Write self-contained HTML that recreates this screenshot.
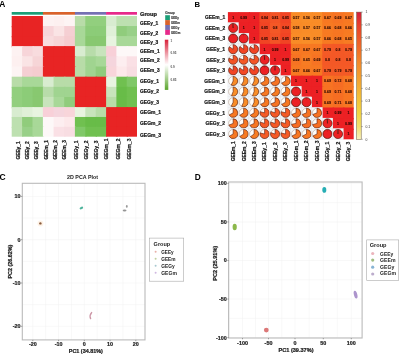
<!DOCTYPE html>
<html><head><meta charset="utf-8"><style>
html,body{margin:0;padding:0;background:#fff;width:400px;height:354px;overflow:hidden}
svg{display:block;font-family:"Liberation Sans", sans-serif;will-change:transform}
</style></head><body>
<svg width="400" height="354" viewBox="0 0 400 354">
<rect width="400" height="354" fill="#fff"/>
<text x="-0.70" y="6.70" font-size="8.4" text-anchor="start" font-weight="bold" fill="#000">A</text>
<text x="194.40" y="6.50" font-size="7.7" text-anchor="start" font-weight="bold" fill="#000">B</text>
<text x="-0.50" y="180.00" font-size="8.5" text-anchor="start" font-weight="bold" fill="#000">C</text>
<text x="194.80" y="179.80" font-size="8.3" text-anchor="start" font-weight="bold" fill="#000">D</text>
<rect x="11.70" y="16.00" width="11.60" height="11.23" fill="#e82424"/>
<rect x="22.10" y="16.00" width="11.60" height="11.23" fill="#e82424"/>
<rect x="32.50" y="16.00" width="11.60" height="11.23" fill="#e82424"/>
<rect x="42.90" y="16.00" width="11.87" height="11.23" fill="#fdf2f2"/>
<rect x="53.57" y="16.00" width="11.87" height="11.23" fill="#fdf0f0"/>
<rect x="64.23" y="16.00" width="11.87" height="11.23" fill="#fdf4f4"/>
<rect x="74.90" y="16.00" width="11.60" height="11.23" fill="#b8dca8"/>
<rect x="85.30" y="16.00" width="11.60" height="11.23" fill="#92cf7e"/>
<rect x="95.70" y="16.00" width="11.60" height="11.23" fill="#92cf7e"/>
<rect x="106.10" y="16.00" width="11.50" height="11.23" fill="#d8ecd0"/>
<rect x="116.40" y="16.00" width="11.50" height="11.23" fill="#bde0b0"/>
<rect x="126.70" y="16.00" width="10.30" height="11.23" fill="#bde0b0"/>
<rect x="11.70" y="26.03" width="11.60" height="11.23" fill="#e82424"/>
<rect x="22.10" y="26.03" width="11.60" height="11.23" fill="#e82424"/>
<rect x="32.50" y="26.03" width="11.60" height="11.23" fill="#e82424"/>
<rect x="42.90" y="26.03" width="11.87" height="11.23" fill="#f7d5d9"/>
<rect x="53.57" y="26.03" width="11.87" height="11.23" fill="#fae4e5"/>
<rect x="64.23" y="26.03" width="11.87" height="11.23" fill="#f5cfd3"/>
<rect x="74.90" y="26.03" width="11.60" height="11.23" fill="#a8d898"/>
<rect x="85.30" y="26.03" width="11.60" height="11.23" fill="#8ccc78"/>
<rect x="95.70" y="26.03" width="11.60" height="11.23" fill="#8ccc78"/>
<rect x="106.10" y="26.03" width="11.50" height="11.23" fill="#e0f0d8"/>
<rect x="116.40" y="26.03" width="11.50" height="11.23" fill="#90cc7c"/>
<rect x="126.70" y="26.03" width="10.30" height="11.23" fill="#98d088"/>
<rect x="11.70" y="36.07" width="11.60" height="11.23" fill="#e82424"/>
<rect x="22.10" y="36.07" width="11.60" height="11.23" fill="#e82424"/>
<rect x="32.50" y="36.07" width="11.60" height="11.23" fill="#e82424"/>
<rect x="42.90" y="36.07" width="11.87" height="11.23" fill="#f8dcde"/>
<rect x="53.57" y="36.07" width="11.87" height="11.23" fill="#f6d5d7"/>
<rect x="64.23" y="36.07" width="11.87" height="11.23" fill="#f5cccf"/>
<rect x="74.90" y="36.07" width="11.60" height="11.23" fill="#a8d898"/>
<rect x="85.30" y="36.07" width="11.60" height="11.23" fill="#88c870"/>
<rect x="95.70" y="36.07" width="11.60" height="11.23" fill="#88c870"/>
<rect x="106.10" y="36.07" width="11.50" height="11.23" fill="#e8f4e0"/>
<rect x="116.40" y="36.07" width="11.50" height="11.23" fill="#a8d898"/>
<rect x="126.70" y="36.07" width="10.30" height="11.23" fill="#a8d898"/>
<rect x="11.70" y="46.10" width="11.60" height="11.40" fill="#fdf2f2"/>
<rect x="22.10" y="46.10" width="11.60" height="11.40" fill="#f7d5d9"/>
<rect x="32.50" y="46.10" width="11.60" height="11.40" fill="#f8dcde"/>
<rect x="42.90" y="46.10" width="11.87" height="11.40" fill="#e82424"/>
<rect x="53.57" y="46.10" width="11.87" height="11.40" fill="#e82424"/>
<rect x="64.23" y="46.10" width="11.87" height="11.40" fill="#e82424"/>
<rect x="74.90" y="46.10" width="11.60" height="11.40" fill="#d8ecd0"/>
<rect x="85.30" y="46.10" width="11.60" height="11.40" fill="#b8dcaa"/>
<rect x="95.70" y="46.10" width="11.60" height="11.40" fill="#c8e4bc"/>
<rect x="106.10" y="46.10" width="11.50" height="11.40" fill="#f8d0d8"/>
<rect x="116.40" y="46.10" width="11.50" height="11.40" fill="#fdf8f8"/>
<rect x="126.70" y="46.10" width="10.30" height="11.40" fill="#fdf8f8"/>
<rect x="11.70" y="56.30" width="11.60" height="11.40" fill="#fdf0f0"/>
<rect x="22.10" y="56.30" width="11.60" height="11.40" fill="#fae4e5"/>
<rect x="32.50" y="56.30" width="11.60" height="11.40" fill="#f6d5d7"/>
<rect x="42.90" y="56.30" width="11.87" height="11.40" fill="#e82424"/>
<rect x="53.57" y="56.30" width="11.87" height="11.40" fill="#e82424"/>
<rect x="64.23" y="56.30" width="11.87" height="11.40" fill="#e82424"/>
<rect x="74.90" y="56.30" width="11.60" height="11.40" fill="#b8dca8"/>
<rect x="85.30" y="56.30" width="11.60" height="11.40" fill="#a0d490"/>
<rect x="95.70" y="56.30" width="11.60" height="11.40" fill="#a8d898"/>
<rect x="106.10" y="56.30" width="11.50" height="11.40" fill="#f5d5dd"/>
<rect x="116.40" y="56.30" width="11.50" height="11.40" fill="#fdeef0"/>
<rect x="126.70" y="56.30" width="10.30" height="11.40" fill="#fae0e5"/>
<rect x="11.70" y="66.50" width="11.60" height="11.40" fill="#fdf4f4"/>
<rect x="22.10" y="66.50" width="11.60" height="11.40" fill="#f5cfd3"/>
<rect x="32.50" y="66.50" width="11.60" height="11.40" fill="#f5cccf"/>
<rect x="42.90" y="66.50" width="11.87" height="11.40" fill="#e82424"/>
<rect x="53.57" y="66.50" width="11.87" height="11.40" fill="#e82424"/>
<rect x="64.23" y="66.50" width="11.87" height="11.40" fill="#e82424"/>
<rect x="74.90" y="66.50" width="11.60" height="11.40" fill="#b8dca8"/>
<rect x="85.30" y="66.50" width="11.60" height="11.40" fill="#a0d490"/>
<rect x="95.70" y="66.50" width="11.60" height="11.40" fill="#90cc7c"/>
<rect x="106.10" y="66.50" width="11.50" height="11.40" fill="#f8d5da"/>
<rect x="116.40" y="66.50" width="11.50" height="11.40" fill="#fde8ea"/>
<rect x="126.70" y="66.50" width="10.30" height="11.40" fill="#f8dde2"/>
<rect x="11.70" y="76.70" width="11.60" height="11.33" fill="#b8dca8"/>
<rect x="22.10" y="76.70" width="11.60" height="11.33" fill="#a8d898"/>
<rect x="32.50" y="76.70" width="11.60" height="11.33" fill="#a8d898"/>
<rect x="42.90" y="76.70" width="11.87" height="11.33" fill="#d8ecd0"/>
<rect x="53.57" y="76.70" width="11.87" height="11.33" fill="#b8dca8"/>
<rect x="64.23" y="76.70" width="11.87" height="11.33" fill="#b8dca8"/>
<rect x="74.90" y="76.70" width="11.60" height="11.33" fill="#e82424"/>
<rect x="85.30" y="76.70" width="11.60" height="11.33" fill="#e82424"/>
<rect x="95.70" y="76.70" width="11.60" height="11.33" fill="#e82424"/>
<rect x="106.10" y="76.70" width="11.50" height="11.33" fill="#e8f4e0"/>
<rect x="116.40" y="76.70" width="11.50" height="11.33" fill="#70c050"/>
<rect x="126.70" y="76.70" width="10.30" height="11.33" fill="#80c868"/>
<rect x="11.70" y="86.83" width="11.60" height="11.33" fill="#92cf7e"/>
<rect x="22.10" y="86.83" width="11.60" height="11.33" fill="#8ccc78"/>
<rect x="32.50" y="86.83" width="11.60" height="11.33" fill="#88c870"/>
<rect x="42.90" y="86.83" width="11.87" height="11.33" fill="#b8dcaa"/>
<rect x="53.57" y="86.83" width="11.87" height="11.33" fill="#a0d490"/>
<rect x="64.23" y="86.83" width="11.87" height="11.33" fill="#a0d490"/>
<rect x="74.90" y="86.83" width="11.60" height="11.33" fill="#e82424"/>
<rect x="85.30" y="86.83" width="11.60" height="11.33" fill="#e82424"/>
<rect x="95.70" y="86.83" width="11.60" height="11.33" fill="#e82424"/>
<rect x="106.10" y="86.83" width="11.50" height="11.33" fill="#c8e4bc"/>
<rect x="116.40" y="86.83" width="11.50" height="11.33" fill="#68bc48"/>
<rect x="126.70" y="86.83" width="10.30" height="11.33" fill="#70c050"/>
<rect x="11.70" y="96.97" width="11.60" height="11.33" fill="#92cf7e"/>
<rect x="22.10" y="96.97" width="11.60" height="11.33" fill="#8ccc78"/>
<rect x="32.50" y="96.97" width="11.60" height="11.33" fill="#88c870"/>
<rect x="42.90" y="96.97" width="11.87" height="11.33" fill="#c8e4bc"/>
<rect x="53.57" y="96.97" width="11.87" height="11.33" fill="#a8d898"/>
<rect x="64.23" y="96.97" width="11.87" height="11.33" fill="#90cc7c"/>
<rect x="74.90" y="96.97" width="11.60" height="11.33" fill="#e82424"/>
<rect x="85.30" y="96.97" width="11.60" height="11.33" fill="#e82424"/>
<rect x="95.70" y="96.97" width="11.60" height="11.33" fill="#e82424"/>
<rect x="106.10" y="96.97" width="11.50" height="11.33" fill="#b8dca8"/>
<rect x="116.40" y="96.97" width="11.50" height="11.33" fill="#68bc48"/>
<rect x="126.70" y="96.97" width="10.30" height="11.33" fill="#70c050"/>
<rect x="11.70" y="107.10" width="11.60" height="11.07" fill="#d8ecd0"/>
<rect x="22.10" y="107.10" width="11.60" height="11.07" fill="#e0f0d8"/>
<rect x="32.50" y="107.10" width="11.60" height="11.07" fill="#e8f4e0"/>
<rect x="42.90" y="107.10" width="11.87" height="11.07" fill="#f8d0d8"/>
<rect x="53.57" y="107.10" width="11.87" height="11.07" fill="#f5d5dd"/>
<rect x="64.23" y="107.10" width="11.87" height="11.07" fill="#f8d5da"/>
<rect x="74.90" y="107.10" width="11.60" height="11.07" fill="#e8f4e0"/>
<rect x="85.30" y="107.10" width="11.60" height="11.07" fill="#c8e4bc"/>
<rect x="95.70" y="107.10" width="11.60" height="11.07" fill="#b8dca8"/>
<rect x="106.10" y="107.10" width="11.50" height="11.07" fill="#e82424"/>
<rect x="116.40" y="107.10" width="11.50" height="11.07" fill="#e82424"/>
<rect x="126.70" y="107.10" width="10.30" height="11.07" fill="#e82424"/>
<rect x="11.70" y="116.97" width="11.60" height="11.07" fill="#bde0b0"/>
<rect x="22.10" y="116.97" width="11.60" height="11.07" fill="#90cc7c"/>
<rect x="32.50" y="116.97" width="11.60" height="11.07" fill="#a8d898"/>
<rect x="42.90" y="116.97" width="11.87" height="11.07" fill="#fdf8f8"/>
<rect x="53.57" y="116.97" width="11.87" height="11.07" fill="#fdeef0"/>
<rect x="64.23" y="116.97" width="11.87" height="11.07" fill="#fde8ea"/>
<rect x="74.90" y="116.97" width="11.60" height="11.07" fill="#70c050"/>
<rect x="85.30" y="116.97" width="11.60" height="11.07" fill="#68bc48"/>
<rect x="95.70" y="116.97" width="11.60" height="11.07" fill="#68bc48"/>
<rect x="106.10" y="116.97" width="11.50" height="11.07" fill="#e82424"/>
<rect x="116.40" y="116.97" width="11.50" height="11.07" fill="#e82424"/>
<rect x="126.70" y="116.97" width="10.30" height="11.07" fill="#e82424"/>
<rect x="11.70" y="126.83" width="11.60" height="9.87" fill="#bde0b0"/>
<rect x="22.10" y="126.83" width="11.60" height="9.87" fill="#98d088"/>
<rect x="32.50" y="126.83" width="11.60" height="9.87" fill="#a8d898"/>
<rect x="42.90" y="126.83" width="11.87" height="9.87" fill="#fdf8f8"/>
<rect x="53.57" y="126.83" width="11.87" height="9.87" fill="#fae0e5"/>
<rect x="64.23" y="126.83" width="11.87" height="9.87" fill="#f8dde2"/>
<rect x="74.90" y="126.83" width="11.60" height="9.87" fill="#80c868"/>
<rect x="85.30" y="126.83" width="11.60" height="9.87" fill="#70c050"/>
<rect x="95.70" y="126.83" width="11.60" height="9.87" fill="#70c050"/>
<rect x="106.10" y="126.83" width="11.50" height="9.87" fill="#e82424"/>
<rect x="116.40" y="126.83" width="11.50" height="9.87" fill="#e82424"/>
<rect x="126.70" y="126.83" width="10.30" height="9.87" fill="#e82424"/>
<rect x="11.70" y="12" width="31.60" height="2.7" fill="#1b9e77"/>
<rect x="42.90" y="12" width="32.40" height="2.7" fill="#d9622b"/>
<rect x="74.90" y="12" width="31.60" height="2.7" fill="#7570b3"/>
<rect x="106.10" y="12" width="30.90" height="2.7" fill="#e7298a"/>
<text x="140.00" y="15.80" font-size="5.4" text-anchor="start" font-weight="bold" fill="#1a1a1a" stroke="#1a1a1a" stroke-width="0.24" textLength="17.0" lengthAdjust="spacingAndGlyphs">Group</text>
<text x="140.00" y="24.80" font-size="5.3" text-anchor="start" font-weight="bold" fill="#1a1a1a" stroke="#1a1a1a" stroke-width="0.24" textLength="18.3" lengthAdjust="spacingAndGlyphs">GEEy_1</text>
<text x="20.00" y="159.60" font-size="5.3" text-anchor="start" font-weight="bold" fill="#1a1a1a" stroke="#1a1a1a" stroke-width="0.24" transform="rotate(-90 20.00 159.60)" textLength="18.3" lengthAdjust="spacingAndGlyphs">GEEy_1</text>
<text x="140.00" y="34.60" font-size="5.3" text-anchor="start" font-weight="bold" fill="#1a1a1a" stroke="#1a1a1a" stroke-width="0.24" textLength="18.3" lengthAdjust="spacingAndGlyphs">GEEy_2</text>
<text x="29.30" y="159.60" font-size="5.3" text-anchor="start" font-weight="bold" fill="#1a1a1a" stroke="#1a1a1a" stroke-width="0.24" transform="rotate(-90 29.30 159.60)" textLength="18.3" lengthAdjust="spacingAndGlyphs">GEEy_2</text>
<text x="140.00" y="43.90" font-size="5.3" text-anchor="start" font-weight="bold" fill="#1a1a1a" stroke="#1a1a1a" stroke-width="0.24" textLength="18.3" lengthAdjust="spacingAndGlyphs">GEEy_3</text>
<text x="37.90" y="159.60" font-size="5.3" text-anchor="start" font-weight="bold" fill="#1a1a1a" stroke="#1a1a1a" stroke-width="0.24" transform="rotate(-90 37.90 159.60)" textLength="18.3" lengthAdjust="spacingAndGlyphs">GEEy_3</text>
<text x="140.00" y="53.00" font-size="5.3" text-anchor="start" font-weight="bold" fill="#1a1a1a" stroke="#1a1a1a" stroke-width="0.24" textLength="19.6" lengthAdjust="spacingAndGlyphs">GEEm_1</text>
<text x="48.00" y="159.60" font-size="5.3" text-anchor="start" font-weight="bold" fill="#1a1a1a" stroke="#1a1a1a" stroke-width="0.24" transform="rotate(-90 48.00 159.60)" textLength="19.6" lengthAdjust="spacingAndGlyphs">GEEm_1</text>
<text x="140.00" y="62.10" font-size="5.3" text-anchor="start" font-weight="bold" fill="#1a1a1a" stroke="#1a1a1a" stroke-width="0.24" textLength="19.6" lengthAdjust="spacingAndGlyphs">GEEm_2</text>
<text x="56.80" y="159.60" font-size="5.3" text-anchor="start" font-weight="bold" fill="#1a1a1a" stroke="#1a1a1a" stroke-width="0.24" transform="rotate(-90 56.80 159.60)" textLength="19.6" lengthAdjust="spacingAndGlyphs">GEEm_2</text>
<text x="140.00" y="72.20" font-size="5.3" text-anchor="start" font-weight="bold" fill="#1a1a1a" stroke="#1a1a1a" stroke-width="0.24" textLength="19.6" lengthAdjust="spacingAndGlyphs">GEEm_3</text>
<text x="66.40" y="159.60" font-size="5.3" text-anchor="start" font-weight="bold" fill="#1a1a1a" stroke="#1a1a1a" stroke-width="0.24" transform="rotate(-90 66.40 159.60)" textLength="19.6" lengthAdjust="spacingAndGlyphs">GEEm_3</text>
<text x="140.00" y="83.20" font-size="5.3" text-anchor="start" font-weight="bold" fill="#1a1a1a" stroke="#1a1a1a" stroke-width="0.24" textLength="19.0" lengthAdjust="spacingAndGlyphs">GEGy_1</text>
<text x="78.00" y="159.60" font-size="5.3" text-anchor="start" font-weight="bold" fill="#1a1a1a" stroke="#1a1a1a" stroke-width="0.24" transform="rotate(-90 78.00 159.60)" textLength="19.0" lengthAdjust="spacingAndGlyphs">GEGy_1</text>
<text x="140.00" y="93.00" font-size="5.3" text-anchor="start" font-weight="bold" fill="#1a1a1a" stroke="#1a1a1a" stroke-width="0.24" textLength="19.0" lengthAdjust="spacingAndGlyphs">GEGy_2</text>
<text x="87.60" y="159.60" font-size="5.3" text-anchor="start" font-weight="bold" fill="#1a1a1a" stroke="#1a1a1a" stroke-width="0.24" transform="rotate(-90 87.60 159.60)" textLength="19.0" lengthAdjust="spacingAndGlyphs">GEGy_2</text>
<text x="140.00" y="103.80" font-size="5.3" text-anchor="start" font-weight="bold" fill="#1a1a1a" stroke="#1a1a1a" stroke-width="0.24" textLength="19.0" lengthAdjust="spacingAndGlyphs">GEGy_3</text>
<text x="98.00" y="159.60" font-size="5.3" text-anchor="start" font-weight="bold" fill="#1a1a1a" stroke="#1a1a1a" stroke-width="0.24" transform="rotate(-90 98.00 159.60)" textLength="19.0" lengthAdjust="spacingAndGlyphs">GEGy_3</text>
<text x="140.00" y="113.50" font-size="5.3" text-anchor="start" font-weight="bold" fill="#1a1a1a" stroke="#1a1a1a" stroke-width="0.24" textLength="21.0" lengthAdjust="spacingAndGlyphs">GEGm_1</text>
<text x="108.40" y="159.60" font-size="5.3" text-anchor="start" font-weight="bold" fill="#1a1a1a" stroke="#1a1a1a" stroke-width="0.24" transform="rotate(-90 108.40 159.60)" textLength="21.0" lengthAdjust="spacingAndGlyphs">GEGm_1</text>
<text x="140.00" y="125.00" font-size="5.3" text-anchor="start" font-weight="bold" fill="#1a1a1a" stroke="#1a1a1a" stroke-width="0.24" textLength="21.0" lengthAdjust="spacingAndGlyphs">GEGm_2</text>
<text x="119.60" y="159.60" font-size="5.3" text-anchor="start" font-weight="bold" fill="#1a1a1a" stroke="#1a1a1a" stroke-width="0.24" transform="rotate(-90 119.60 159.60)" textLength="21.0" lengthAdjust="spacingAndGlyphs">GEGm_2</text>
<text x="140.00" y="136.50" font-size="5.3" text-anchor="start" font-weight="bold" fill="#1a1a1a" stroke="#1a1a1a" stroke-width="0.24" textLength="21.0" lengthAdjust="spacingAndGlyphs">GEGm_3</text>
<text x="130.80" y="159.60" font-size="5.3" text-anchor="start" font-weight="bold" fill="#1a1a1a" stroke="#1a1a1a" stroke-width="0.24" transform="rotate(-90 130.80 159.60)" textLength="21.0" lengthAdjust="spacingAndGlyphs">GEGm_3</text>
<text x="165.20" y="13.90" font-size="3.2" text-anchor="start" font-weight="bold" fill="#2a2a2a" stroke="#2a2a2a" stroke-width="0.1">Group</text>
<rect x="165.2" y="15.20" width="4.7" height="4.95" fill="#1b9e77"/>
<text x="171.00" y="18.80" font-size="3.0" text-anchor="start" font-weight="bold" fill="#2a2a2a" stroke="#2a2a2a" stroke-width="0.1">GEEy</text>
<rect x="165.2" y="20.10" width="4.7" height="4.95" fill="#d9622b"/>
<text x="171.00" y="23.70" font-size="3.0" text-anchor="start" font-weight="bold" fill="#2a2a2a" stroke="#2a2a2a" stroke-width="0.1">GEEm</text>
<rect x="165.2" y="25.00" width="4.7" height="4.95" fill="#7570b3"/>
<text x="171.00" y="28.60" font-size="3.0" text-anchor="start" font-weight="bold" fill="#2a2a2a" stroke="#2a2a2a" stroke-width="0.1">GEGy</text>
<rect x="165.2" y="29.90" width="4.7" height="4.95" fill="#e7298a"/>
<text x="171.00" y="33.50" font-size="3.0" text-anchor="start" font-weight="bold" fill="#2a2a2a" stroke="#2a2a2a" stroke-width="0.1">GEGm</text>
<defs><linearGradient id="cbA" x1="0" y1="0" x2="0" y2="1"><stop offset="0" stop-color="#d8213a"/><stop offset="0.5" stop-color="#ffffff"/><stop offset="1" stop-color="#5aa52c"/></linearGradient><linearGradient id="cbB" x1="0" y1="0" x2="0" y2="1"><stop offset="0" stop-color="#d21f3e"/><stop offset="0.1" stop-color="#e6402c"/><stop offset="0.3" stop-color="#f07028"/><stop offset="0.4" stop-color="#f28a2c"/><stop offset="0.5" stop-color="#f29c30"/><stop offset="0.7" stop-color="#f2c63a"/><stop offset="0.8" stop-color="#f2d644"/><stop offset="0.9" stop-color="#f2e070"/><stop offset="1" stop-color="#f8f2c0"/></linearGradient></defs>
<rect x="164.8" y="39.7" width="3.5" height="50.2" fill="url(#cbA)"/>
<text x="170.50" y="41.50" font-size="3.0" text-anchor="start" font-weight="bold" fill="#555">1</text>
<text x="170.50" y="54.00" font-size="3.0" text-anchor="start" font-weight="bold" fill="#555">0.95</text>
<text x="170.50" y="68.00" font-size="3.0" text-anchor="start" font-weight="bold" fill="#555">0.9</text>
<text x="170.50" y="81.00" font-size="3.0" text-anchor="start" font-weight="bold" fill="#555">0.85</text>
<rect x="227.90" y="12.10" width="11.68" height="10.60" fill="#ec2024"/>
<rect x="238.38" y="12.10" width="11.68" height="11.80" fill="#ec2224"/>
<rect x="248.87" y="12.10" width="11.68" height="11.80" fill="#ec2024"/>
<rect x="259.35" y="12.10" width="11.68" height="11.80" fill="#f24824"/>
<rect x="269.83" y="12.10" width="11.68" height="11.80" fill="#f35426"/>
<rect x="280.32" y="12.10" width="11.68" height="11.80" fill="#f14424"/>
<rect x="290.80" y="12.10" width="11.68" height="11.80" fill="#f98c27"/>
<rect x="301.28" y="12.10" width="11.68" height="11.80" fill="#f98e28"/>
<rect x="311.77" y="12.10" width="11.68" height="11.80" fill="#f98c27"/>
<rect x="322.25" y="12.10" width="11.68" height="11.80" fill="#f77822"/>
<rect x="332.73" y="12.10" width="11.68" height="11.80" fill="#f77323"/>
<rect x="343.22" y="12.10" width="10.48" height="11.80" fill="#f77822"/>
<rect x="238.38" y="22.70" width="11.68" height="10.60" fill="#ec2024"/>
<rect x="248.87" y="22.70" width="11.68" height="11.80" fill="#ec2024"/>
<rect x="259.35" y="22.70" width="11.68" height="11.80" fill="#f14424"/>
<rect x="269.83" y="22.70" width="11.68" height="11.80" fill="#f45826"/>
<rect x="280.32" y="22.70" width="11.68" height="11.80" fill="#f24824"/>
<rect x="290.80" y="22.70" width="11.68" height="11.80" fill="#f88a27"/>
<rect x="301.28" y="22.70" width="11.68" height="11.80" fill="#f98c27"/>
<rect x="311.77" y="22.70" width="11.68" height="11.80" fill="#f98c27"/>
<rect x="322.25" y="22.70" width="11.68" height="11.80" fill="#f77a22"/>
<rect x="332.73" y="22.70" width="11.68" height="11.80" fill="#f77622"/>
<rect x="343.22" y="22.70" width="10.48" height="11.80" fill="#f77a22"/>
<rect x="248.87" y="33.30" width="11.68" height="10.60" fill="#ec2024"/>
<rect x="259.35" y="33.30" width="11.68" height="11.80" fill="#f14424"/>
<rect x="269.83" y="33.30" width="11.68" height="11.80" fill="#f35426"/>
<rect x="280.32" y="33.30" width="11.68" height="11.80" fill="#f14424"/>
<rect x="290.80" y="33.30" width="11.68" height="11.80" fill="#f98c27"/>
<rect x="301.28" y="33.30" width="11.68" height="11.80" fill="#f98e28"/>
<rect x="311.77" y="33.30" width="11.68" height="11.80" fill="#f98c27"/>
<rect x="322.25" y="33.30" width="11.68" height="11.80" fill="#f77a22"/>
<rect x="332.73" y="33.30" width="11.68" height="11.80" fill="#f77622"/>
<rect x="343.22" y="33.30" width="10.48" height="11.80" fill="#f77c23"/>
<rect x="259.35" y="43.90" width="11.68" height="10.60" fill="#ec2024"/>
<rect x="269.83" y="43.90" width="11.68" height="11.80" fill="#ec2224"/>
<rect x="280.32" y="43.90" width="11.68" height="11.80" fill="#ec2024"/>
<rect x="290.80" y="43.90" width="11.68" height="11.80" fill="#f77822"/>
<rect x="301.28" y="43.90" width="11.68" height="11.80" fill="#f77822"/>
<rect x="311.77" y="43.90" width="11.68" height="11.80" fill="#f77822"/>
<rect x="322.25" y="43.90" width="11.68" height="11.80" fill="#f45a26"/>
<rect x="332.73" y="43.90" width="11.68" height="11.80" fill="#f45826"/>
<rect x="343.22" y="43.90" width="10.48" height="11.80" fill="#f45a26"/>
<rect x="269.83" y="54.50" width="11.68" height="10.60" fill="#ec2024"/>
<rect x="280.32" y="54.50" width="11.68" height="11.80" fill="#ec2224"/>
<rect x="290.80" y="54.50" width="11.68" height="11.80" fill="#f77323"/>
<rect x="301.28" y="54.50" width="11.68" height="11.80" fill="#f77c23"/>
<rect x="311.77" y="54.50" width="11.68" height="11.80" fill="#f77323"/>
<rect x="322.25" y="54.50" width="11.68" height="11.80" fill="#f45826"/>
<rect x="332.73" y="54.50" width="11.68" height="11.80" fill="#f45826"/>
<rect x="343.22" y="54.50" width="10.48" height="11.80" fill="#f45826"/>
<rect x="280.32" y="65.10" width="11.68" height="10.60" fill="#ec2024"/>
<rect x="290.80" y="65.10" width="11.68" height="11.80" fill="#f77822"/>
<rect x="301.28" y="65.10" width="11.68" height="11.80" fill="#f77a22"/>
<rect x="311.77" y="65.10" width="11.68" height="11.80" fill="#f77822"/>
<rect x="322.25" y="65.10" width="11.68" height="11.80" fill="#f45a26"/>
<rect x="332.73" y="65.10" width="11.68" height="11.80" fill="#f45a26"/>
<rect x="343.22" y="65.10" width="10.48" height="11.80" fill="#f45a26"/>
<rect x="290.80" y="75.70" width="11.68" height="10.60" fill="#ec2024"/>
<rect x="301.28" y="75.70" width="11.68" height="11.80" fill="#ec2024"/>
<rect x="311.77" y="75.70" width="11.68" height="11.80" fill="#ec2024"/>
<rect x="322.25" y="75.70" width="11.68" height="11.80" fill="#f77323"/>
<rect x="332.73" y="75.70" width="11.68" height="11.80" fill="#f66c24"/>
<rect x="343.22" y="75.70" width="10.48" height="11.80" fill="#f77622"/>
<rect x="301.28" y="86.30" width="11.68" height="10.60" fill="#ec2024"/>
<rect x="311.77" y="86.30" width="11.68" height="11.80" fill="#ec2024"/>
<rect x="322.25" y="86.30" width="11.68" height="11.80" fill="#f77323"/>
<rect x="332.73" y="86.30" width="11.68" height="11.80" fill="#f66e23"/>
<rect x="343.22" y="86.30" width="10.48" height="11.80" fill="#f77622"/>
<rect x="311.77" y="96.90" width="11.68" height="10.60" fill="#ec2024"/>
<rect x="322.25" y="96.90" width="11.68" height="11.80" fill="#f77323"/>
<rect x="332.73" y="96.90" width="11.68" height="11.80" fill="#f66e23"/>
<rect x="343.22" y="96.90" width="10.48" height="11.80" fill="#f77622"/>
<rect x="322.25" y="107.50" width="11.68" height="10.60" fill="#ec2024"/>
<rect x="332.73" y="107.50" width="11.68" height="11.80" fill="#ec2224"/>
<rect x="343.22" y="107.50" width="10.48" height="11.80" fill="#ec2024"/>
<rect x="332.73" y="118.10" width="11.68" height="10.60" fill="#ec2024"/>
<rect x="343.22" y="118.10" width="10.48" height="11.80" fill="#ec2224"/>
<rect x="343.22" y="128.70" width="10.48" height="10.60" fill="#ec2024"/>
<text x="233.14" y="18.70" font-size="3.5" text-anchor="middle" font-weight="bold" fill="#2a0800" stroke="#2a0800" stroke-width="0.08">1</text>
<text x="243.62" y="18.70" font-size="3.5" text-anchor="middle" font-weight="bold" fill="#2a0800" stroke="#2a0800" stroke-width="0.08">0.99</text>
<text x="254.11" y="18.70" font-size="3.5" text-anchor="middle" font-weight="bold" fill="#2a0800" stroke="#2a0800" stroke-width="0.08">1</text>
<text x="264.59" y="18.70" font-size="3.5" text-anchor="middle" font-weight="bold" fill="#2a0800" stroke="#2a0800" stroke-width="0.08">0.84</text>
<text x="275.07" y="18.70" font-size="3.5" text-anchor="middle" font-weight="bold" fill="#2a0800" stroke="#2a0800" stroke-width="0.08">0.81</text>
<text x="285.56" y="18.70" font-size="3.5" text-anchor="middle" font-weight="bold" fill="#2a0800" stroke="#2a0800" stroke-width="0.08">0.85</text>
<text x="296.04" y="18.70" font-size="3.5" text-anchor="middle" font-weight="bold" fill="#2a0800" stroke="#2a0800" stroke-width="0.08">0.57</text>
<text x="306.52" y="18.70" font-size="3.5" text-anchor="middle" font-weight="bold" fill="#2a0800" stroke="#2a0800" stroke-width="0.08">0.56</text>
<text x="317.01" y="18.70" font-size="3.5" text-anchor="middle" font-weight="bold" fill="#2a0800" stroke="#2a0800" stroke-width="0.08">0.57</text>
<text x="327.49" y="18.70" font-size="3.5" text-anchor="middle" font-weight="bold" fill="#2a0800" stroke="#2a0800" stroke-width="0.08">0.67</text>
<text x="337.98" y="18.70" font-size="3.5" text-anchor="middle" font-weight="bold" fill="#2a0800" stroke="#2a0800" stroke-width="0.08">0.69</text>
<text x="348.46" y="18.70" font-size="3.5" text-anchor="middle" font-weight="bold" fill="#2a0800" stroke="#2a0800" stroke-width="0.08">0.67</text>
<rect x="227.90" y="22.70" width="10.48" height="10.60" fill="#f3f5f8" stroke="#e4e6ea" stroke-width="0.4"/>
<circle cx="233.14" cy="28.00" r="4.55" fill="#fffdfa" stroke="#a89080" stroke-width="0.5"/>
<path d="M233.14,28.00 L233.14,23.45 A4.55,4.55 0 1 1 232.86,23.46 Z" fill="#ec2224" stroke="#4a1008" stroke-width="0.55" stroke-linejoin="round"/>
<text x="243.62" y="29.30" font-size="3.5" text-anchor="middle" font-weight="bold" fill="#2a0800" stroke="#2a0800" stroke-width="0.08">1</text>
<text x="254.11" y="29.30" font-size="3.5" text-anchor="middle" font-weight="bold" fill="#2a0800" stroke="#2a0800" stroke-width="0.08">1</text>
<text x="264.59" y="29.30" font-size="3.5" text-anchor="middle" font-weight="bold" fill="#2a0800" stroke="#2a0800" stroke-width="0.08">0.85</text>
<text x="275.07" y="29.30" font-size="3.5" text-anchor="middle" font-weight="bold" fill="#2a0800" stroke="#2a0800" stroke-width="0.08">0.8</text>
<text x="285.56" y="29.30" font-size="3.5" text-anchor="middle" font-weight="bold" fill="#2a0800" stroke="#2a0800" stroke-width="0.08">0.84</text>
<text x="296.04" y="29.30" font-size="3.5" text-anchor="middle" font-weight="bold" fill="#2a0800" stroke="#2a0800" stroke-width="0.08">0.58</text>
<text x="306.52" y="29.30" font-size="3.5" text-anchor="middle" font-weight="bold" fill="#2a0800" stroke="#2a0800" stroke-width="0.08">0.57</text>
<text x="317.01" y="29.30" font-size="3.5" text-anchor="middle" font-weight="bold" fill="#2a0800" stroke="#2a0800" stroke-width="0.08">0.57</text>
<text x="327.49" y="29.30" font-size="3.5" text-anchor="middle" font-weight="bold" fill="#2a0800" stroke="#2a0800" stroke-width="0.08">0.66</text>
<text x="337.98" y="29.30" font-size="3.5" text-anchor="middle" font-weight="bold" fill="#2a0800" stroke="#2a0800" stroke-width="0.08">0.68</text>
<text x="348.46" y="29.30" font-size="3.5" text-anchor="middle" font-weight="bold" fill="#2a0800" stroke="#2a0800" stroke-width="0.08">0.66</text>
<rect x="227.90" y="33.30" width="10.48" height="10.60" fill="#f3f5f8" stroke="#e4e6ea" stroke-width="0.4"/>
<circle cx="233.14" cy="38.60" r="4.55" fill="#fffdfa" stroke="#a89080" stroke-width="0.5"/>
<circle cx="233.14" cy="38.60" r="4.55" fill="#ec2024" stroke="#4a1008" stroke-width="0.65"/>
<line x1="233.14" y1="36.32" x2="233.14" y2="34.05" stroke="#4a1008" stroke-width="0.3" opacity="0.6"/>
<rect x="238.38" y="33.30" width="10.48" height="10.60" fill="#f3f5f8" stroke="#e4e6ea" stroke-width="0.4"/>
<circle cx="243.62" cy="38.60" r="4.55" fill="#fffdfa" stroke="#a89080" stroke-width="0.5"/>
<circle cx="243.62" cy="38.60" r="4.55" fill="#ec2024" stroke="#4a1008" stroke-width="0.65"/>
<line x1="243.62" y1="36.32" x2="243.62" y2="34.05" stroke="#4a1008" stroke-width="0.3" opacity="0.6"/>
<text x="254.11" y="39.90" font-size="3.5" text-anchor="middle" font-weight="bold" fill="#2a0800" stroke="#2a0800" stroke-width="0.08">1</text>
<text x="264.59" y="39.90" font-size="3.5" text-anchor="middle" font-weight="bold" fill="#2a0800" stroke="#2a0800" stroke-width="0.08">0.85</text>
<text x="275.07" y="39.90" font-size="3.5" text-anchor="middle" font-weight="bold" fill="#2a0800" stroke="#2a0800" stroke-width="0.08">0.81</text>
<text x="285.56" y="39.90" font-size="3.5" text-anchor="middle" font-weight="bold" fill="#2a0800" stroke="#2a0800" stroke-width="0.08">0.85</text>
<text x="296.04" y="39.90" font-size="3.5" text-anchor="middle" font-weight="bold" fill="#2a0800" stroke="#2a0800" stroke-width="0.08">0.57</text>
<text x="306.52" y="39.90" font-size="3.5" text-anchor="middle" font-weight="bold" fill="#2a0800" stroke="#2a0800" stroke-width="0.08">0.56</text>
<text x="317.01" y="39.90" font-size="3.5" text-anchor="middle" font-weight="bold" fill="#2a0800" stroke="#2a0800" stroke-width="0.08">0.57</text>
<text x="327.49" y="39.90" font-size="3.5" text-anchor="middle" font-weight="bold" fill="#2a0800" stroke="#2a0800" stroke-width="0.08">0.66</text>
<text x="337.98" y="39.90" font-size="3.5" text-anchor="middle" font-weight="bold" fill="#2a0800" stroke="#2a0800" stroke-width="0.08">0.68</text>
<text x="348.46" y="39.90" font-size="3.5" text-anchor="middle" font-weight="bold" fill="#2a0800" stroke="#2a0800" stroke-width="0.08">0.65</text>
<rect x="227.90" y="43.90" width="10.48" height="10.60" fill="#f3f5f8" stroke="#e4e6ea" stroke-width="0.4"/>
<circle cx="233.14" cy="49.20" r="4.55" fill="#fffdfa" stroke="#a89080" stroke-width="0.5"/>
<path d="M233.14,49.20 L233.14,44.65 A4.55,4.55 0 1 1 229.30,46.76 Z" fill="#f24824" stroke="#4a1008" stroke-width="0.55" stroke-linejoin="round"/>
<rect x="238.38" y="43.90" width="10.48" height="10.60" fill="#f3f5f8" stroke="#e4e6ea" stroke-width="0.4"/>
<circle cx="243.62" cy="49.20" r="4.55" fill="#fffdfa" stroke="#a89080" stroke-width="0.5"/>
<path d="M243.62,49.20 L243.62,44.65 A4.55,4.55 0 1 1 239.94,46.53 Z" fill="#f14424" stroke="#4a1008" stroke-width="0.55" stroke-linejoin="round"/>
<rect x="248.87" y="43.90" width="10.48" height="10.60" fill="#f3f5f8" stroke="#e4e6ea" stroke-width="0.4"/>
<circle cx="254.11" cy="49.20" r="4.55" fill="#fffdfa" stroke="#a89080" stroke-width="0.5"/>
<path d="M254.11,49.20 L254.11,44.65 A4.55,4.55 0 1 1 250.43,46.53 Z" fill="#f14424" stroke="#4a1008" stroke-width="0.55" stroke-linejoin="round"/>
<text x="264.59" y="50.50" font-size="3.5" text-anchor="middle" font-weight="bold" fill="#2a0800" stroke="#2a0800" stroke-width="0.08">1</text>
<text x="275.07" y="50.50" font-size="3.5" text-anchor="middle" font-weight="bold" fill="#2a0800" stroke="#2a0800" stroke-width="0.08">0.99</text>
<text x="285.56" y="50.50" font-size="3.5" text-anchor="middle" font-weight="bold" fill="#2a0800" stroke="#2a0800" stroke-width="0.08">1</text>
<text x="296.04" y="50.50" font-size="3.5" text-anchor="middle" font-weight="bold" fill="#2a0800" stroke="#2a0800" stroke-width="0.08">0.67</text>
<text x="306.52" y="50.50" font-size="3.5" text-anchor="middle" font-weight="bold" fill="#2a0800" stroke="#2a0800" stroke-width="0.08">0.67</text>
<text x="317.01" y="50.50" font-size="3.5" text-anchor="middle" font-weight="bold" fill="#2a0800" stroke="#2a0800" stroke-width="0.08">0.67</text>
<text x="327.49" y="50.50" font-size="3.5" text-anchor="middle" font-weight="bold" fill="#2a0800" stroke="#2a0800" stroke-width="0.08">0.79</text>
<text x="337.98" y="50.50" font-size="3.5" text-anchor="middle" font-weight="bold" fill="#2a0800" stroke="#2a0800" stroke-width="0.08">0.8</text>
<text x="348.46" y="50.50" font-size="3.5" text-anchor="middle" font-weight="bold" fill="#2a0800" stroke="#2a0800" stroke-width="0.08">0.79</text>
<rect x="227.90" y="54.50" width="10.48" height="10.60" fill="#f3f5f8" stroke="#e4e6ea" stroke-width="0.4"/>
<circle cx="233.14" cy="59.80" r="4.55" fill="#fffdfa" stroke="#a89080" stroke-width="0.5"/>
<path d="M233.14,59.80 L233.14,55.25 A4.55,4.55 0 1 1 228.91,58.13 Z" fill="#f35426" stroke="#4a1008" stroke-width="0.55" stroke-linejoin="round"/>
<rect x="238.38" y="54.50" width="10.48" height="10.60" fill="#f3f5f8" stroke="#e4e6ea" stroke-width="0.4"/>
<circle cx="243.62" cy="59.80" r="4.55" fill="#fffdfa" stroke="#a89080" stroke-width="0.5"/>
<path d="M243.62,59.80 L243.62,55.25 A4.55,4.55 0 1 1 239.30,58.39 Z" fill="#f45826" stroke="#4a1008" stroke-width="0.55" stroke-linejoin="round"/>
<rect x="248.87" y="54.50" width="10.48" height="10.60" fill="#f3f5f8" stroke="#e4e6ea" stroke-width="0.4"/>
<circle cx="254.11" cy="59.80" r="4.55" fill="#fffdfa" stroke="#a89080" stroke-width="0.5"/>
<path d="M254.11,59.80 L254.11,55.25 A4.55,4.55 0 1 1 249.88,58.13 Z" fill="#f35426" stroke="#4a1008" stroke-width="0.55" stroke-linejoin="round"/>
<rect x="259.35" y="54.50" width="10.48" height="10.60" fill="#f3f5f8" stroke="#e4e6ea" stroke-width="0.4"/>
<circle cx="264.59" cy="59.80" r="4.55" fill="#fffdfa" stroke="#a89080" stroke-width="0.5"/>
<path d="M264.59,59.80 L264.59,55.25 A4.55,4.55 0 1 1 264.31,55.26 Z" fill="#ec2224" stroke="#4a1008" stroke-width="0.55" stroke-linejoin="round"/>
<text x="275.07" y="61.10" font-size="3.5" text-anchor="middle" font-weight="bold" fill="#2a0800" stroke="#2a0800" stroke-width="0.08">1</text>
<text x="285.56" y="61.10" font-size="3.5" text-anchor="middle" font-weight="bold" fill="#2a0800" stroke="#2a0800" stroke-width="0.08">0.99</text>
<text x="296.04" y="61.10" font-size="3.5" text-anchor="middle" font-weight="bold" fill="#2a0800" stroke="#2a0800" stroke-width="0.08">0.69</text>
<text x="306.52" y="61.10" font-size="3.5" text-anchor="middle" font-weight="bold" fill="#2a0800" stroke="#2a0800" stroke-width="0.08">0.65</text>
<text x="317.01" y="61.10" font-size="3.5" text-anchor="middle" font-weight="bold" fill="#2a0800" stroke="#2a0800" stroke-width="0.08">0.69</text>
<text x="327.49" y="61.10" font-size="3.5" text-anchor="middle" font-weight="bold" fill="#2a0800" stroke="#2a0800" stroke-width="0.08">0.8</text>
<text x="337.98" y="61.10" font-size="3.5" text-anchor="middle" font-weight="bold" fill="#2a0800" stroke="#2a0800" stroke-width="0.08">0.8</text>
<text x="348.46" y="61.10" font-size="3.5" text-anchor="middle" font-weight="bold" fill="#2a0800" stroke="#2a0800" stroke-width="0.08">0.8</text>
<rect x="227.90" y="65.10" width="10.48" height="10.60" fill="#f3f5f8" stroke="#e4e6ea" stroke-width="0.4"/>
<circle cx="233.14" cy="70.40" r="4.55" fill="#fffdfa" stroke="#a89080" stroke-width="0.5"/>
<path d="M233.14,70.40 L233.14,65.85 A4.55,4.55 0 1 1 229.46,67.73 Z" fill="#f14424" stroke="#4a1008" stroke-width="0.55" stroke-linejoin="round"/>
<rect x="238.38" y="65.10" width="10.48" height="10.60" fill="#f3f5f8" stroke="#e4e6ea" stroke-width="0.4"/>
<circle cx="243.62" cy="70.40" r="4.55" fill="#fffdfa" stroke="#a89080" stroke-width="0.5"/>
<path d="M243.62,70.40 L243.62,65.85 A4.55,4.55 0 1 1 239.78,67.96 Z" fill="#f24824" stroke="#4a1008" stroke-width="0.55" stroke-linejoin="round"/>
<rect x="248.87" y="65.10" width="10.48" height="10.60" fill="#f3f5f8" stroke="#e4e6ea" stroke-width="0.4"/>
<circle cx="254.11" cy="70.40" r="4.55" fill="#fffdfa" stroke="#a89080" stroke-width="0.5"/>
<path d="M254.11,70.40 L254.11,65.85 A4.55,4.55 0 1 1 250.43,67.73 Z" fill="#f14424" stroke="#4a1008" stroke-width="0.55" stroke-linejoin="round"/>
<rect x="259.35" y="65.10" width="10.48" height="10.60" fill="#f3f5f8" stroke="#e4e6ea" stroke-width="0.4"/>
<circle cx="264.59" cy="70.40" r="4.55" fill="#fffdfa" stroke="#a89080" stroke-width="0.5"/>
<circle cx="264.59" cy="70.40" r="4.55" fill="#ec2024" stroke="#4a1008" stroke-width="0.65"/>
<line x1="264.59" y1="68.12" x2="264.59" y2="65.85" stroke="#4a1008" stroke-width="0.3" opacity="0.6"/>
<rect x="269.83" y="65.10" width="10.48" height="10.60" fill="#f3f5f8" stroke="#e4e6ea" stroke-width="0.4"/>
<circle cx="275.07" cy="70.40" r="4.55" fill="#fffdfa" stroke="#a89080" stroke-width="0.5"/>
<path d="M275.07,70.40 L275.07,65.85 A4.55,4.55 0 1 1 274.79,65.86 Z" fill="#ec2224" stroke="#4a1008" stroke-width="0.55" stroke-linejoin="round"/>
<text x="285.56" y="71.70" font-size="3.5" text-anchor="middle" font-weight="bold" fill="#2a0800" stroke="#2a0800" stroke-width="0.08">1</text>
<text x="296.04" y="71.70" font-size="3.5" text-anchor="middle" font-weight="bold" fill="#2a0800" stroke="#2a0800" stroke-width="0.08">0.67</text>
<text x="306.52" y="71.70" font-size="3.5" text-anchor="middle" font-weight="bold" fill="#2a0800" stroke="#2a0800" stroke-width="0.08">0.66</text>
<text x="317.01" y="71.70" font-size="3.5" text-anchor="middle" font-weight="bold" fill="#2a0800" stroke="#2a0800" stroke-width="0.08">0.67</text>
<text x="327.49" y="71.70" font-size="3.5" text-anchor="middle" font-weight="bold" fill="#2a0800" stroke="#2a0800" stroke-width="0.08">0.79</text>
<text x="337.98" y="71.70" font-size="3.5" text-anchor="middle" font-weight="bold" fill="#2a0800" stroke="#2a0800" stroke-width="0.08">0.79</text>
<text x="348.46" y="71.70" font-size="3.5" text-anchor="middle" font-weight="bold" fill="#2a0800" stroke="#2a0800" stroke-width="0.08">0.79</text>
<rect x="227.90" y="75.70" width="10.48" height="10.60" fill="#f3f5f8" stroke="#e4e6ea" stroke-width="0.4"/>
<circle cx="233.14" cy="81.00" r="4.55" fill="#fffdfa" stroke="#a89080" stroke-width="0.5"/>
<path d="M233.14,81.00 L233.14,76.45 A4.55,4.55 0 1 1 231.20,85.12 Z" fill="#f98c27" stroke="#4a1008" stroke-width="0.55" stroke-linejoin="round"/>
<rect x="238.38" y="75.70" width="10.48" height="10.60" fill="#f3f5f8" stroke="#e4e6ea" stroke-width="0.4"/>
<circle cx="243.62" cy="81.00" r="4.55" fill="#fffdfa" stroke="#a89080" stroke-width="0.5"/>
<path d="M243.62,81.00 L243.62,76.45 A4.55,4.55 0 1 1 241.43,84.99 Z" fill="#f88a27" stroke="#4a1008" stroke-width="0.55" stroke-linejoin="round"/>
<rect x="248.87" y="75.70" width="10.48" height="10.60" fill="#f3f5f8" stroke="#e4e6ea" stroke-width="0.4"/>
<circle cx="254.11" cy="81.00" r="4.55" fill="#fffdfa" stroke="#a89080" stroke-width="0.5"/>
<path d="M254.11,81.00 L254.11,76.45 A4.55,4.55 0 1 1 252.17,85.12 Z" fill="#f98c27" stroke="#4a1008" stroke-width="0.55" stroke-linejoin="round"/>
<rect x="259.35" y="75.70" width="10.48" height="10.60" fill="#f3f5f8" stroke="#e4e6ea" stroke-width="0.4"/>
<circle cx="264.59" cy="81.00" r="4.55" fill="#fffdfa" stroke="#a89080" stroke-width="0.5"/>
<path d="M264.59,81.00 L264.59,76.45 A4.55,4.55 0 1 1 260.60,83.19 Z" fill="#f77822" stroke="#4a1008" stroke-width="0.55" stroke-linejoin="round"/>
<rect x="269.83" y="75.70" width="10.48" height="10.60" fill="#f3f5f8" stroke="#e4e6ea" stroke-width="0.4"/>
<circle cx="275.07" cy="81.00" r="4.55" fill="#fffdfa" stroke="#a89080" stroke-width="0.5"/>
<path d="M275.07,81.00 L275.07,76.45 A4.55,4.55 0 1 1 270.84,82.67 Z" fill="#f77323" stroke="#4a1008" stroke-width="0.55" stroke-linejoin="round"/>
<rect x="280.32" y="75.70" width="10.48" height="10.60" fill="#f3f5f8" stroke="#e4e6ea" stroke-width="0.4"/>
<circle cx="285.56" cy="81.00" r="4.55" fill="#fffdfa" stroke="#a89080" stroke-width="0.5"/>
<path d="M285.56,81.00 L285.56,76.45 A4.55,4.55 0 1 1 281.57,83.19 Z" fill="#f77822" stroke="#4a1008" stroke-width="0.55" stroke-linejoin="round"/>
<text x="296.04" y="82.30" font-size="3.5" text-anchor="middle" font-weight="bold" fill="#2a0800" stroke="#2a0800" stroke-width="0.08">1</text>
<text x="306.52" y="82.30" font-size="3.5" text-anchor="middle" font-weight="bold" fill="#2a0800" stroke="#2a0800" stroke-width="0.08">1</text>
<text x="317.01" y="82.30" font-size="3.5" text-anchor="middle" font-weight="bold" fill="#2a0800" stroke="#2a0800" stroke-width="0.08">1</text>
<text x="327.49" y="82.30" font-size="3.5" text-anchor="middle" font-weight="bold" fill="#2a0800" stroke="#2a0800" stroke-width="0.08">0.69</text>
<text x="337.98" y="82.30" font-size="3.5" text-anchor="middle" font-weight="bold" fill="#2a0800" stroke="#2a0800" stroke-width="0.08">0.72</text>
<text x="348.46" y="82.30" font-size="3.5" text-anchor="middle" font-weight="bold" fill="#2a0800" stroke="#2a0800" stroke-width="0.08">0.68</text>
<rect x="227.90" y="86.30" width="10.48" height="10.60" fill="#f3f5f8" stroke="#e4e6ea" stroke-width="0.4"/>
<circle cx="233.14" cy="91.60" r="4.55" fill="#fffdfa" stroke="#a89080" stroke-width="0.5"/>
<path d="M233.14,91.60 L233.14,87.05 A4.55,4.55 0 1 1 231.47,95.83 Z" fill="#f98e28" stroke="#4a1008" stroke-width="0.55" stroke-linejoin="round"/>
<rect x="238.38" y="86.30" width="10.48" height="10.60" fill="#f3f5f8" stroke="#e4e6ea" stroke-width="0.4"/>
<circle cx="243.62" cy="91.60" r="4.55" fill="#fffdfa" stroke="#a89080" stroke-width="0.5"/>
<path d="M243.62,91.60 L243.62,87.05 A4.55,4.55 0 1 1 241.69,95.72 Z" fill="#f98c27" stroke="#4a1008" stroke-width="0.55" stroke-linejoin="round"/>
<rect x="248.87" y="86.30" width="10.48" height="10.60" fill="#f3f5f8" stroke="#e4e6ea" stroke-width="0.4"/>
<circle cx="254.11" cy="91.60" r="4.55" fill="#fffdfa" stroke="#a89080" stroke-width="0.5"/>
<path d="M254.11,91.60 L254.11,87.05 A4.55,4.55 0 1 1 252.43,95.83 Z" fill="#f98e28" stroke="#4a1008" stroke-width="0.55" stroke-linejoin="round"/>
<rect x="259.35" y="86.30" width="10.48" height="10.60" fill="#f3f5f8" stroke="#e4e6ea" stroke-width="0.4"/>
<circle cx="264.59" cy="91.60" r="4.55" fill="#fffdfa" stroke="#a89080" stroke-width="0.5"/>
<path d="M264.59,91.60 L264.59,87.05 A4.55,4.55 0 1 1 260.60,93.79 Z" fill="#f77822" stroke="#4a1008" stroke-width="0.55" stroke-linejoin="round"/>
<rect x="269.83" y="86.30" width="10.48" height="10.60" fill="#f3f5f8" stroke="#e4e6ea" stroke-width="0.4"/>
<circle cx="275.07" cy="91.60" r="4.55" fill="#fffdfa" stroke="#a89080" stroke-width="0.5"/>
<path d="M275.07,91.60 L275.07,87.05 A4.55,4.55 0 1 1 271.39,94.27 Z" fill="#f77c23" stroke="#4a1008" stroke-width="0.55" stroke-linejoin="round"/>
<rect x="280.32" y="86.30" width="10.48" height="10.60" fill="#f3f5f8" stroke="#e4e6ea" stroke-width="0.4"/>
<circle cx="285.56" cy="91.60" r="4.55" fill="#fffdfa" stroke="#a89080" stroke-width="0.5"/>
<path d="M285.56,91.60 L285.56,87.05 A4.55,4.55 0 1 1 281.72,94.04 Z" fill="#f77a22" stroke="#4a1008" stroke-width="0.55" stroke-linejoin="round"/>
<rect x="290.80" y="86.30" width="10.48" height="10.60" fill="#f3f5f8" stroke="#e4e6ea" stroke-width="0.4"/>
<circle cx="296.04" cy="91.60" r="4.55" fill="#fffdfa" stroke="#a89080" stroke-width="0.5"/>
<circle cx="296.04" cy="91.60" r="4.55" fill="#ec2024" stroke="#4a1008" stroke-width="0.65"/>
<line x1="296.04" y1="89.32" x2="296.04" y2="87.05" stroke="#4a1008" stroke-width="0.3" opacity="0.6"/>
<text x="306.52" y="92.90" font-size="3.5" text-anchor="middle" font-weight="bold" fill="#2a0800" stroke="#2a0800" stroke-width="0.08">1</text>
<text x="317.01" y="92.90" font-size="3.5" text-anchor="middle" font-weight="bold" fill="#2a0800" stroke="#2a0800" stroke-width="0.08">1</text>
<text x="327.49" y="92.90" font-size="3.5" text-anchor="middle" font-weight="bold" fill="#2a0800" stroke="#2a0800" stroke-width="0.08">0.69</text>
<text x="337.98" y="92.90" font-size="3.5" text-anchor="middle" font-weight="bold" fill="#2a0800" stroke="#2a0800" stroke-width="0.08">0.71</text>
<text x="348.46" y="92.90" font-size="3.5" text-anchor="middle" font-weight="bold" fill="#2a0800" stroke="#2a0800" stroke-width="0.08">0.68</text>
<rect x="227.90" y="96.90" width="10.48" height="10.60" fill="#f3f5f8" stroke="#e4e6ea" stroke-width="0.4"/>
<circle cx="233.14" cy="102.20" r="4.55" fill="#fffdfa" stroke="#a89080" stroke-width="0.5"/>
<path d="M233.14,102.20 L233.14,97.65 A4.55,4.55 0 1 1 231.20,106.32 Z" fill="#f98c27" stroke="#4a1008" stroke-width="0.55" stroke-linejoin="round"/>
<rect x="238.38" y="96.90" width="10.48" height="10.60" fill="#f3f5f8" stroke="#e4e6ea" stroke-width="0.4"/>
<circle cx="243.62" cy="102.20" r="4.55" fill="#fffdfa" stroke="#a89080" stroke-width="0.5"/>
<path d="M243.62,102.20 L243.62,97.65 A4.55,4.55 0 1 1 241.69,106.32 Z" fill="#f98c27" stroke="#4a1008" stroke-width="0.55" stroke-linejoin="round"/>
<rect x="248.87" y="96.90" width="10.48" height="10.60" fill="#f3f5f8" stroke="#e4e6ea" stroke-width="0.4"/>
<circle cx="254.11" cy="102.20" r="4.55" fill="#fffdfa" stroke="#a89080" stroke-width="0.5"/>
<path d="M254.11,102.20 L254.11,97.65 A4.55,4.55 0 1 1 252.17,106.32 Z" fill="#f98c27" stroke="#4a1008" stroke-width="0.55" stroke-linejoin="round"/>
<rect x="259.35" y="96.90" width="10.48" height="10.60" fill="#f3f5f8" stroke="#e4e6ea" stroke-width="0.4"/>
<circle cx="264.59" cy="102.20" r="4.55" fill="#fffdfa" stroke="#a89080" stroke-width="0.5"/>
<path d="M264.59,102.20 L264.59,97.65 A4.55,4.55 0 1 1 260.60,104.39 Z" fill="#f77822" stroke="#4a1008" stroke-width="0.55" stroke-linejoin="round"/>
<rect x="269.83" y="96.90" width="10.48" height="10.60" fill="#f3f5f8" stroke="#e4e6ea" stroke-width="0.4"/>
<circle cx="275.07" cy="102.20" r="4.55" fill="#fffdfa" stroke="#a89080" stroke-width="0.5"/>
<path d="M275.07,102.20 L275.07,97.65 A4.55,4.55 0 1 1 270.84,103.87 Z" fill="#f77323" stroke="#4a1008" stroke-width="0.55" stroke-linejoin="round"/>
<rect x="280.32" y="96.90" width="10.48" height="10.60" fill="#f3f5f8" stroke="#e4e6ea" stroke-width="0.4"/>
<circle cx="285.56" cy="102.20" r="4.55" fill="#fffdfa" stroke="#a89080" stroke-width="0.5"/>
<path d="M285.56,102.20 L285.56,97.65 A4.55,4.55 0 1 1 281.57,104.39 Z" fill="#f77822" stroke="#4a1008" stroke-width="0.55" stroke-linejoin="round"/>
<rect x="290.80" y="96.90" width="10.48" height="10.60" fill="#f3f5f8" stroke="#e4e6ea" stroke-width="0.4"/>
<circle cx="296.04" cy="102.20" r="4.55" fill="#fffdfa" stroke="#a89080" stroke-width="0.5"/>
<circle cx="296.04" cy="102.20" r="4.55" fill="#ec2024" stroke="#4a1008" stroke-width="0.65"/>
<line x1="296.04" y1="99.92" x2="296.04" y2="97.65" stroke="#4a1008" stroke-width="0.3" opacity="0.6"/>
<rect x="301.28" y="96.90" width="10.48" height="10.60" fill="#f3f5f8" stroke="#e4e6ea" stroke-width="0.4"/>
<circle cx="306.52" cy="102.20" r="4.55" fill="#fffdfa" stroke="#a89080" stroke-width="0.5"/>
<circle cx="306.52" cy="102.20" r="4.55" fill="#ec2024" stroke="#4a1008" stroke-width="0.65"/>
<line x1="306.52" y1="99.92" x2="306.52" y2="97.65" stroke="#4a1008" stroke-width="0.3" opacity="0.6"/>
<text x="317.01" y="103.50" font-size="3.5" text-anchor="middle" font-weight="bold" fill="#2a0800" stroke="#2a0800" stroke-width="0.08">1</text>
<text x="327.49" y="103.50" font-size="3.5" text-anchor="middle" font-weight="bold" fill="#2a0800" stroke="#2a0800" stroke-width="0.08">0.69</text>
<text x="337.98" y="103.50" font-size="3.5" text-anchor="middle" font-weight="bold" fill="#2a0800" stroke="#2a0800" stroke-width="0.08">0.71</text>
<text x="348.46" y="103.50" font-size="3.5" text-anchor="middle" font-weight="bold" fill="#2a0800" stroke="#2a0800" stroke-width="0.08">0.68</text>
<rect x="227.90" y="107.50" width="10.48" height="10.60" fill="#f3f5f8" stroke="#e4e6ea" stroke-width="0.4"/>
<circle cx="233.14" cy="112.80" r="4.55" fill="#fffdfa" stroke="#a89080" stroke-width="0.5"/>
<path d="M233.14,112.80 L233.14,108.25 A4.55,4.55 0 1 1 229.15,114.99 Z" fill="#f77822" stroke="#4a1008" stroke-width="0.55" stroke-linejoin="round"/>
<rect x="238.38" y="107.50" width="10.48" height="10.60" fill="#f3f5f8" stroke="#e4e6ea" stroke-width="0.4"/>
<circle cx="243.62" cy="112.80" r="4.55" fill="#fffdfa" stroke="#a89080" stroke-width="0.5"/>
<path d="M243.62,112.80 L243.62,108.25 A4.55,4.55 0 1 1 239.78,115.24 Z" fill="#f77a22" stroke="#4a1008" stroke-width="0.55" stroke-linejoin="round"/>
<rect x="248.87" y="107.50" width="10.48" height="10.60" fill="#f3f5f8" stroke="#e4e6ea" stroke-width="0.4"/>
<circle cx="254.11" cy="112.80" r="4.55" fill="#fffdfa" stroke="#a89080" stroke-width="0.5"/>
<path d="M254.11,112.80 L254.11,108.25 A4.55,4.55 0 1 1 250.27,115.24 Z" fill="#f77a22" stroke="#4a1008" stroke-width="0.55" stroke-linejoin="round"/>
<rect x="259.35" y="107.50" width="10.48" height="10.60" fill="#f3f5f8" stroke="#e4e6ea" stroke-width="0.4"/>
<circle cx="264.59" cy="112.80" r="4.55" fill="#fffdfa" stroke="#a89080" stroke-width="0.5"/>
<path d="M264.59,112.80 L264.59,108.25 A4.55,4.55 0 1 1 260.18,111.67 Z" fill="#f45a26" stroke="#4a1008" stroke-width="0.55" stroke-linejoin="round"/>
<rect x="269.83" y="107.50" width="10.48" height="10.60" fill="#f3f5f8" stroke="#e4e6ea" stroke-width="0.4"/>
<circle cx="275.07" cy="112.80" r="4.55" fill="#fffdfa" stroke="#a89080" stroke-width="0.5"/>
<path d="M275.07,112.80 L275.07,108.25 A4.55,4.55 0 1 1 270.75,111.39 Z" fill="#f45826" stroke="#4a1008" stroke-width="0.55" stroke-linejoin="round"/>
<rect x="280.32" y="107.50" width="10.48" height="10.60" fill="#f3f5f8" stroke="#e4e6ea" stroke-width="0.4"/>
<circle cx="285.56" cy="112.80" r="4.55" fill="#fffdfa" stroke="#a89080" stroke-width="0.5"/>
<path d="M285.56,112.80 L285.56,108.25 A4.55,4.55 0 1 1 281.15,111.67 Z" fill="#f45a26" stroke="#4a1008" stroke-width="0.55" stroke-linejoin="round"/>
<rect x="290.80" y="107.50" width="10.48" height="10.60" fill="#f3f5f8" stroke="#e4e6ea" stroke-width="0.4"/>
<circle cx="296.04" cy="112.80" r="4.55" fill="#fffdfa" stroke="#a89080" stroke-width="0.5"/>
<path d="M296.04,112.80 L296.04,108.25 A4.55,4.55 0 1 1 291.81,114.47 Z" fill="#f77323" stroke="#4a1008" stroke-width="0.55" stroke-linejoin="round"/>
<rect x="301.28" y="107.50" width="10.48" height="10.60" fill="#f3f5f8" stroke="#e4e6ea" stroke-width="0.4"/>
<circle cx="306.52" cy="112.80" r="4.55" fill="#fffdfa" stroke="#a89080" stroke-width="0.5"/>
<path d="M306.52,112.80 L306.52,108.25 A4.55,4.55 0 1 1 302.29,114.47 Z" fill="#f77323" stroke="#4a1008" stroke-width="0.55" stroke-linejoin="round"/>
<rect x="311.77" y="107.50" width="10.48" height="10.60" fill="#f3f5f8" stroke="#e4e6ea" stroke-width="0.4"/>
<circle cx="317.01" cy="112.80" r="4.55" fill="#fffdfa" stroke="#a89080" stroke-width="0.5"/>
<path d="M317.01,112.80 L317.01,108.25 A4.55,4.55 0 1 1 312.78,114.47 Z" fill="#f77323" stroke="#4a1008" stroke-width="0.55" stroke-linejoin="round"/>
<text x="327.49" y="114.10" font-size="3.5" text-anchor="middle" font-weight="bold" fill="#2a0800" stroke="#2a0800" stroke-width="0.08">1</text>
<text x="337.98" y="114.10" font-size="3.5" text-anchor="middle" font-weight="bold" fill="#2a0800" stroke="#2a0800" stroke-width="0.08">0.99</text>
<text x="348.46" y="114.10" font-size="3.5" text-anchor="middle" font-weight="bold" fill="#2a0800" stroke="#2a0800" stroke-width="0.08">1</text>
<rect x="227.90" y="118.10" width="10.48" height="10.60" fill="#f3f5f8" stroke="#e4e6ea" stroke-width="0.4"/>
<circle cx="233.14" cy="123.40" r="4.55" fill="#fffdfa" stroke="#a89080" stroke-width="0.5"/>
<path d="M233.14,123.40 L233.14,118.85 A4.55,4.55 0 1 1 228.91,125.07 Z" fill="#f77323" stroke="#4a1008" stroke-width="0.55" stroke-linejoin="round"/>
<rect x="238.38" y="118.10" width="10.48" height="10.60" fill="#f3f5f8" stroke="#e4e6ea" stroke-width="0.4"/>
<circle cx="243.62" cy="123.40" r="4.55" fill="#fffdfa" stroke="#a89080" stroke-width="0.5"/>
<path d="M243.62,123.40 L243.62,118.85 A4.55,4.55 0 1 1 239.51,125.34 Z" fill="#f77622" stroke="#4a1008" stroke-width="0.55" stroke-linejoin="round"/>
<rect x="248.87" y="118.10" width="10.48" height="10.60" fill="#f3f5f8" stroke="#e4e6ea" stroke-width="0.4"/>
<circle cx="254.11" cy="123.40" r="4.55" fill="#fffdfa" stroke="#a89080" stroke-width="0.5"/>
<path d="M254.11,123.40 L254.11,118.85 A4.55,4.55 0 1 1 249.99,125.34 Z" fill="#f77622" stroke="#4a1008" stroke-width="0.55" stroke-linejoin="round"/>
<rect x="259.35" y="118.10" width="10.48" height="10.60" fill="#f3f5f8" stroke="#e4e6ea" stroke-width="0.4"/>
<circle cx="264.59" cy="123.40" r="4.55" fill="#fffdfa" stroke="#a89080" stroke-width="0.5"/>
<path d="M264.59,123.40 L264.59,118.85 A4.55,4.55 0 1 1 260.26,121.99 Z" fill="#f45826" stroke="#4a1008" stroke-width="0.55" stroke-linejoin="round"/>
<rect x="269.83" y="118.10" width="10.48" height="10.60" fill="#f3f5f8" stroke="#e4e6ea" stroke-width="0.4"/>
<circle cx="275.07" cy="123.40" r="4.55" fill="#fffdfa" stroke="#a89080" stroke-width="0.5"/>
<path d="M275.07,123.40 L275.07,118.85 A4.55,4.55 0 1 1 270.75,121.99 Z" fill="#f45826" stroke="#4a1008" stroke-width="0.55" stroke-linejoin="round"/>
<rect x="280.32" y="118.10" width="10.48" height="10.60" fill="#f3f5f8" stroke="#e4e6ea" stroke-width="0.4"/>
<circle cx="285.56" cy="123.40" r="4.55" fill="#fffdfa" stroke="#a89080" stroke-width="0.5"/>
<path d="M285.56,123.40 L285.56,118.85 A4.55,4.55 0 1 1 281.15,122.27 Z" fill="#f45a26" stroke="#4a1008" stroke-width="0.55" stroke-linejoin="round"/>
<rect x="290.80" y="118.10" width="10.48" height="10.60" fill="#f3f5f8" stroke="#e4e6ea" stroke-width="0.4"/>
<circle cx="296.04" cy="123.40" r="4.55" fill="#fffdfa" stroke="#a89080" stroke-width="0.5"/>
<path d="M296.04,123.40 L296.04,118.85 A4.55,4.55 0 1 1 291.57,124.25 Z" fill="#f66c24" stroke="#4a1008" stroke-width="0.55" stroke-linejoin="round"/>
<rect x="301.28" y="118.10" width="10.48" height="10.60" fill="#f3f5f8" stroke="#e4e6ea" stroke-width="0.4"/>
<circle cx="306.52" cy="123.40" r="4.55" fill="#fffdfa" stroke="#a89080" stroke-width="0.5"/>
<path d="M306.52,123.40 L306.52,118.85 A4.55,4.55 0 1 1 302.12,124.53 Z" fill="#f66e23" stroke="#4a1008" stroke-width="0.55" stroke-linejoin="round"/>
<rect x="311.77" y="118.10" width="10.48" height="10.60" fill="#f3f5f8" stroke="#e4e6ea" stroke-width="0.4"/>
<circle cx="317.01" cy="123.40" r="4.55" fill="#fffdfa" stroke="#a89080" stroke-width="0.5"/>
<path d="M317.01,123.40 L317.01,118.85 A4.55,4.55 0 1 1 312.60,124.53 Z" fill="#f66e23" stroke="#4a1008" stroke-width="0.55" stroke-linejoin="round"/>
<rect x="322.25" y="118.10" width="10.48" height="10.60" fill="#f3f5f8" stroke="#e4e6ea" stroke-width="0.4"/>
<circle cx="327.49" cy="123.40" r="4.55" fill="#fffdfa" stroke="#a89080" stroke-width="0.5"/>
<path d="M327.49,123.40 L327.49,118.85 A4.55,4.55 0 1 1 327.21,118.86 Z" fill="#ec2224" stroke="#4a1008" stroke-width="0.55" stroke-linejoin="round"/>
<text x="337.98" y="124.70" font-size="3.5" text-anchor="middle" font-weight="bold" fill="#2a0800" stroke="#2a0800" stroke-width="0.08">1</text>
<text x="348.46" y="124.70" font-size="3.5" text-anchor="middle" font-weight="bold" fill="#2a0800" stroke="#2a0800" stroke-width="0.08">0.99</text>
<rect x="227.90" y="128.70" width="10.48" height="10.60" fill="#f3f5f8" stroke="#e4e6ea" stroke-width="0.4"/>
<circle cx="233.14" cy="134.00" r="4.55" fill="#fffdfa" stroke="#a89080" stroke-width="0.5"/>
<path d="M233.14,134.00 L233.14,129.45 A4.55,4.55 0 1 1 229.15,136.19 Z" fill="#f77822" stroke="#4a1008" stroke-width="0.55" stroke-linejoin="round"/>
<rect x="238.38" y="128.70" width="10.48" height="10.60" fill="#f3f5f8" stroke="#e4e6ea" stroke-width="0.4"/>
<circle cx="243.62" cy="134.00" r="4.55" fill="#fffdfa" stroke="#a89080" stroke-width="0.5"/>
<path d="M243.62,134.00 L243.62,129.45 A4.55,4.55 0 1 1 239.78,136.44 Z" fill="#f77a22" stroke="#4a1008" stroke-width="0.55" stroke-linejoin="round"/>
<rect x="248.87" y="128.70" width="10.48" height="10.60" fill="#f3f5f8" stroke="#e4e6ea" stroke-width="0.4"/>
<circle cx="254.11" cy="134.00" r="4.55" fill="#fffdfa" stroke="#a89080" stroke-width="0.5"/>
<path d="M254.11,134.00 L254.11,129.45 A4.55,4.55 0 1 1 250.43,136.67 Z" fill="#f77c23" stroke="#4a1008" stroke-width="0.55" stroke-linejoin="round"/>
<rect x="259.35" y="128.70" width="10.48" height="10.60" fill="#f3f5f8" stroke="#e4e6ea" stroke-width="0.4"/>
<circle cx="264.59" cy="134.00" r="4.55" fill="#fffdfa" stroke="#a89080" stroke-width="0.5"/>
<path d="M264.59,134.00 L264.59,129.45 A4.55,4.55 0 1 1 260.18,132.87 Z" fill="#f45a26" stroke="#4a1008" stroke-width="0.55" stroke-linejoin="round"/>
<rect x="269.83" y="128.70" width="10.48" height="10.60" fill="#f3f5f8" stroke="#e4e6ea" stroke-width="0.4"/>
<circle cx="275.07" cy="134.00" r="4.55" fill="#fffdfa" stroke="#a89080" stroke-width="0.5"/>
<path d="M275.07,134.00 L275.07,129.45 A4.55,4.55 0 1 1 270.75,132.59 Z" fill="#f45826" stroke="#4a1008" stroke-width="0.55" stroke-linejoin="round"/>
<rect x="280.32" y="128.70" width="10.48" height="10.60" fill="#f3f5f8" stroke="#e4e6ea" stroke-width="0.4"/>
<circle cx="285.56" cy="134.00" r="4.55" fill="#fffdfa" stroke="#a89080" stroke-width="0.5"/>
<path d="M285.56,134.00 L285.56,129.45 A4.55,4.55 0 1 1 281.15,132.87 Z" fill="#f45a26" stroke="#4a1008" stroke-width="0.55" stroke-linejoin="round"/>
<rect x="290.80" y="128.70" width="10.48" height="10.60" fill="#f3f5f8" stroke="#e4e6ea" stroke-width="0.4"/>
<circle cx="296.04" cy="134.00" r="4.55" fill="#fffdfa" stroke="#a89080" stroke-width="0.5"/>
<path d="M296.04,134.00 L296.04,129.45 A4.55,4.55 0 1 1 291.92,135.94 Z" fill="#f77622" stroke="#4a1008" stroke-width="0.55" stroke-linejoin="round"/>
<rect x="301.28" y="128.70" width="10.48" height="10.60" fill="#f3f5f8" stroke="#e4e6ea" stroke-width="0.4"/>
<circle cx="306.52" cy="134.00" r="4.55" fill="#fffdfa" stroke="#a89080" stroke-width="0.5"/>
<path d="M306.52,134.00 L306.52,129.45 A4.55,4.55 0 1 1 302.41,135.94 Z" fill="#f77622" stroke="#4a1008" stroke-width="0.55" stroke-linejoin="round"/>
<rect x="311.77" y="128.70" width="10.48" height="10.60" fill="#f3f5f8" stroke="#e4e6ea" stroke-width="0.4"/>
<circle cx="317.01" cy="134.00" r="4.55" fill="#fffdfa" stroke="#a89080" stroke-width="0.5"/>
<path d="M317.01,134.00 L317.01,129.45 A4.55,4.55 0 1 1 312.89,135.94 Z" fill="#f77622" stroke="#4a1008" stroke-width="0.55" stroke-linejoin="round"/>
<rect x="322.25" y="128.70" width="10.48" height="10.60" fill="#f3f5f8" stroke="#e4e6ea" stroke-width="0.4"/>
<circle cx="327.49" cy="134.00" r="4.55" fill="#fffdfa" stroke="#a89080" stroke-width="0.5"/>
<circle cx="327.49" cy="134.00" r="4.55" fill="#ec2024" stroke="#4a1008" stroke-width="0.65"/>
<line x1="327.49" y1="131.72" x2="327.49" y2="129.45" stroke="#4a1008" stroke-width="0.3" opacity="0.6"/>
<rect x="332.73" y="128.70" width="10.48" height="10.60" fill="#f3f5f8" stroke="#e4e6ea" stroke-width="0.4"/>
<circle cx="337.98" cy="134.00" r="4.55" fill="#fffdfa" stroke="#a89080" stroke-width="0.5"/>
<path d="M337.98,134.00 L337.98,129.45 A4.55,4.55 0 1 1 337.69,129.46 Z" fill="#ec2224" stroke="#4a1008" stroke-width="0.55" stroke-linejoin="round"/>
<text x="348.46" y="135.30" font-size="3.5" text-anchor="middle" font-weight="bold" fill="#2a0800" stroke="#2a0800" stroke-width="0.08">1</text>
<text x="225.10" y="19.20" font-size="5.3" text-anchor="end" font-weight="bold" fill="#1a1a1a" stroke="#1a1a1a" stroke-width="0.24" textLength="20.0" lengthAdjust="spacingAndGlyphs">GEEm_1</text>
<text x="235.04" y="161.30" font-size="5.3" text-anchor="start" font-weight="bold" fill="#1a1a1a" stroke="#1a1a1a" stroke-width="0.24" transform="rotate(-90 235.04 161.30)" textLength="20.0" lengthAdjust="spacingAndGlyphs">GEEm_1</text>
<text x="225.10" y="29.80" font-size="5.3" text-anchor="end" font-weight="bold" fill="#1a1a1a" stroke="#1a1a1a" stroke-width="0.24" textLength="20.0" lengthAdjust="spacingAndGlyphs">GEEm_2</text>
<text x="245.53" y="161.30" font-size="5.3" text-anchor="start" font-weight="bold" fill="#1a1a1a" stroke="#1a1a1a" stroke-width="0.24" transform="rotate(-90 245.53 161.30)" textLength="20.0" lengthAdjust="spacingAndGlyphs">GEEm_2</text>
<text x="225.10" y="40.40" font-size="5.3" text-anchor="end" font-weight="bold" fill="#1a1a1a" stroke="#1a1a1a" stroke-width="0.24" textLength="20.0" lengthAdjust="spacingAndGlyphs">GEEm_3</text>
<text x="256.01" y="161.30" font-size="5.3" text-anchor="start" font-weight="bold" fill="#1a1a1a" stroke="#1a1a1a" stroke-width="0.24" transform="rotate(-90 256.01 161.30)" textLength="20.0" lengthAdjust="spacingAndGlyphs">GEEm_3</text>
<text x="225.10" y="51.00" font-size="5.3" text-anchor="end" font-weight="bold" fill="#1a1a1a" stroke="#1a1a1a" stroke-width="0.24" textLength="19.0" lengthAdjust="spacingAndGlyphs">GEEy_1</text>
<text x="266.49" y="161.30" font-size="5.3" text-anchor="start" font-weight="bold" fill="#1a1a1a" stroke="#1a1a1a" stroke-width="0.24" transform="rotate(-90 266.49 161.30)" textLength="19.0" lengthAdjust="spacingAndGlyphs">GEEy_1</text>
<text x="225.10" y="61.60" font-size="5.3" text-anchor="end" font-weight="bold" fill="#1a1a1a" stroke="#1a1a1a" stroke-width="0.24" textLength="19.0" lengthAdjust="spacingAndGlyphs">GEEy_2</text>
<text x="276.97" y="161.30" font-size="5.3" text-anchor="start" font-weight="bold" fill="#1a1a1a" stroke="#1a1a1a" stroke-width="0.24" transform="rotate(-90 276.97 161.30)" textLength="19.0" lengthAdjust="spacingAndGlyphs">GEEy_2</text>
<text x="225.10" y="72.20" font-size="5.3" text-anchor="end" font-weight="bold" fill="#1a1a1a" stroke="#1a1a1a" stroke-width="0.24" textLength="19.0" lengthAdjust="spacingAndGlyphs">GEEy_3</text>
<text x="287.46" y="161.30" font-size="5.3" text-anchor="start" font-weight="bold" fill="#1a1a1a" stroke="#1a1a1a" stroke-width="0.24" transform="rotate(-90 287.46 161.30)" textLength="19.0" lengthAdjust="spacingAndGlyphs">GEEy_3</text>
<text x="225.10" y="82.80" font-size="5.3" text-anchor="end" font-weight="bold" fill="#1a1a1a" stroke="#1a1a1a" stroke-width="0.24" textLength="20.8" lengthAdjust="spacingAndGlyphs">GEGm_1</text>
<text x="297.94" y="161.30" font-size="5.3" text-anchor="start" font-weight="bold" fill="#1a1a1a" stroke="#1a1a1a" stroke-width="0.24" transform="rotate(-90 297.94 161.30)" textLength="20.8" lengthAdjust="spacingAndGlyphs">GEGm_1</text>
<text x="225.10" y="93.40" font-size="5.3" text-anchor="end" font-weight="bold" fill="#1a1a1a" stroke="#1a1a1a" stroke-width="0.24" textLength="20.8" lengthAdjust="spacingAndGlyphs">GEGm_2</text>
<text x="308.42" y="161.30" font-size="5.3" text-anchor="start" font-weight="bold" fill="#1a1a1a" stroke="#1a1a1a" stroke-width="0.24" transform="rotate(-90 308.42 161.30)" textLength="20.8" lengthAdjust="spacingAndGlyphs">GEGm_2</text>
<text x="225.10" y="104.00" font-size="5.3" text-anchor="end" font-weight="bold" fill="#1a1a1a" stroke="#1a1a1a" stroke-width="0.24" textLength="20.8" lengthAdjust="spacingAndGlyphs">GEGm_3</text>
<text x="318.91" y="161.30" font-size="5.3" text-anchor="start" font-weight="bold" fill="#1a1a1a" stroke="#1a1a1a" stroke-width="0.24" transform="rotate(-90 318.91 161.30)" textLength="20.8" lengthAdjust="spacingAndGlyphs">GEGm_3</text>
<text x="225.10" y="114.60" font-size="5.3" text-anchor="end" font-weight="bold" fill="#1a1a1a" stroke="#1a1a1a" stroke-width="0.24" textLength="19.5" lengthAdjust="spacingAndGlyphs">GEGy_1</text>
<text x="329.39" y="161.30" font-size="5.3" text-anchor="start" font-weight="bold" fill="#1a1a1a" stroke="#1a1a1a" stroke-width="0.24" transform="rotate(-90 329.39 161.30)" textLength="19.5" lengthAdjust="spacingAndGlyphs">GEGy_1</text>
<text x="225.10" y="125.20" font-size="5.3" text-anchor="end" font-weight="bold" fill="#1a1a1a" stroke="#1a1a1a" stroke-width="0.24" textLength="19.5" lengthAdjust="spacingAndGlyphs">GEGy_2</text>
<text x="339.88" y="161.30" font-size="5.3" text-anchor="start" font-weight="bold" fill="#1a1a1a" stroke="#1a1a1a" stroke-width="0.24" transform="rotate(-90 339.88 161.30)" textLength="19.5" lengthAdjust="spacingAndGlyphs">GEGy_2</text>
<text x="225.10" y="135.80" font-size="5.3" text-anchor="end" font-weight="bold" fill="#1a1a1a" stroke="#1a1a1a" stroke-width="0.24" textLength="19.5" lengthAdjust="spacingAndGlyphs">GEGy_3</text>
<text x="350.36" y="161.30" font-size="5.3" text-anchor="start" font-weight="bold" fill="#1a1a1a" stroke="#1a1a1a" stroke-width="0.24" transform="rotate(-90 350.36 161.30)" textLength="19.5" lengthAdjust="spacingAndGlyphs">GEGy_3</text>
<rect x="356.6" y="12.1" width="4.6" height="127.2" fill="url(#cbB)" stroke="#6a5a3a" stroke-width="0.5"/>
<line x1="361.2" y1="12.10" x2="362.8" y2="12.10" stroke="#555" stroke-width="0.45"/>
<text x="365.50" y="13.30" font-size="3.4" text-anchor="start" font-weight="normal" fill="#333">1</text>
<line x1="361.2" y1="24.82" x2="362.8" y2="24.82" stroke="#555" stroke-width="0.45"/>
<text x="365.50" y="26.02" font-size="3.4" text-anchor="start" font-weight="normal" fill="#333">0.9</text>
<line x1="361.2" y1="37.54" x2="362.8" y2="37.54" stroke="#555" stroke-width="0.45"/>
<text x="365.50" y="38.74" font-size="3.4" text-anchor="start" font-weight="normal" fill="#333">0.8</text>
<line x1="361.2" y1="50.26" x2="362.8" y2="50.26" stroke="#555" stroke-width="0.45"/>
<text x="365.50" y="51.46" font-size="3.4" text-anchor="start" font-weight="normal" fill="#333">0.7</text>
<line x1="361.2" y1="62.98" x2="362.8" y2="62.98" stroke="#555" stroke-width="0.45"/>
<text x="365.50" y="64.18" font-size="3.4" text-anchor="start" font-weight="normal" fill="#333">0.6</text>
<line x1="361.2" y1="75.70" x2="362.8" y2="75.70" stroke="#555" stroke-width="0.45"/>
<text x="365.50" y="76.90" font-size="3.4" text-anchor="start" font-weight="normal" fill="#333">0.5</text>
<line x1="361.2" y1="88.42" x2="362.8" y2="88.42" stroke="#555" stroke-width="0.45"/>
<text x="365.50" y="89.62" font-size="3.4" text-anchor="start" font-weight="normal" fill="#333">0.4</text>
<line x1="361.2" y1="101.14" x2="362.8" y2="101.14" stroke="#555" stroke-width="0.45"/>
<text x="365.50" y="102.34" font-size="3.4" text-anchor="start" font-weight="normal" fill="#333">0.3</text>
<line x1="361.2" y1="113.86" x2="362.8" y2="113.86" stroke="#555" stroke-width="0.45"/>
<text x="365.50" y="115.06" font-size="3.4" text-anchor="start" font-weight="normal" fill="#333">0.2</text>
<line x1="361.2" y1="126.58" x2="362.8" y2="126.58" stroke="#555" stroke-width="0.45"/>
<text x="365.50" y="127.78" font-size="3.4" text-anchor="start" font-weight="normal" fill="#333">0.1</text>
<line x1="361.2" y1="139.30" x2="362.8" y2="139.30" stroke="#555" stroke-width="0.45"/>
<text x="365.50" y="140.50" font-size="3.4" text-anchor="start" font-weight="normal" fill="#333">0</text>
<text x="82.50" y="179.30" font-size="4.9" text-anchor="middle" font-weight="bold" fill="#222" textLength="31.0" lengthAdjust="spacingAndGlyphs">2D PCA Plot</text>
<line x1="32.80" y1="183.3" x2="32.80" y2="339.9" stroke="#f1f1f1" stroke-width="0.5"/>
<line x1="45.67" y1="183.3" x2="45.67" y2="339.9" stroke="#f1f1f1" stroke-width="0.5"/>
<line x1="58.55" y1="183.3" x2="58.55" y2="339.9" stroke="#f1f1f1" stroke-width="0.5"/>
<line x1="71.42" y1="183.3" x2="71.42" y2="339.9" stroke="#f1f1f1" stroke-width="0.5"/>
<line x1="84.30" y1="183.3" x2="84.30" y2="339.9" stroke="#f1f1f1" stroke-width="0.5"/>
<line x1="97.17" y1="183.3" x2="97.17" y2="339.9" stroke="#f1f1f1" stroke-width="0.5"/>
<line x1="110.05" y1="183.3" x2="110.05" y2="339.9" stroke="#f1f1f1" stroke-width="0.5"/>
<line x1="122.92" y1="183.3" x2="122.92" y2="339.9" stroke="#f1f1f1" stroke-width="0.5"/>
<line x1="135.80" y1="183.3" x2="135.80" y2="339.9" stroke="#f1f1f1" stroke-width="0.5"/>
<line x1="22.3" y1="326.30" x2="145.0" y2="326.30" stroke="#f1f1f1" stroke-width="0.5"/>
<line x1="22.3" y1="304.65" x2="145.0" y2="304.65" stroke="#f1f1f1" stroke-width="0.5"/>
<line x1="22.3" y1="283.00" x2="145.0" y2="283.00" stroke="#f1f1f1" stroke-width="0.5"/>
<line x1="22.3" y1="261.35" x2="145.0" y2="261.35" stroke="#f1f1f1" stroke-width="0.5"/>
<line x1="22.3" y1="239.70" x2="145.0" y2="239.70" stroke="#f1f1f1" stroke-width="0.5"/>
<line x1="22.3" y1="218.05" x2="145.0" y2="218.05" stroke="#f1f1f1" stroke-width="0.5"/>
<line x1="22.3" y1="196.40" x2="145.0" y2="196.40" stroke="#f1f1f1" stroke-width="0.5"/>
<rect x="22.3" y="183.3" width="122.7" height="156.59999999999997" fill="none" stroke="#bababa" stroke-width="1.1"/>
<line x1="32.80" y1="339.9" x2="32.80" y2="341.2" stroke="#555" stroke-width="0.5"/>
<text x="32.80" y="345.80" font-size="5.4" text-anchor="middle" font-weight="bold" fill="#222" stroke="#222" stroke-width="0.2">-20</text>
<line x1="58.55" y1="339.9" x2="58.55" y2="341.2" stroke="#555" stroke-width="0.5"/>
<text x="58.55" y="345.80" font-size="5.4" text-anchor="middle" font-weight="bold" fill="#222" stroke="#222" stroke-width="0.2">-10</text>
<line x1="84.30" y1="339.9" x2="84.30" y2="341.2" stroke="#555" stroke-width="0.5"/>
<text x="84.30" y="345.80" font-size="5.4" text-anchor="middle" font-weight="bold" fill="#222" stroke="#222" stroke-width="0.2">0</text>
<line x1="110.05" y1="339.9" x2="110.05" y2="341.2" stroke="#555" stroke-width="0.5"/>
<text x="110.05" y="345.80" font-size="5.4" text-anchor="middle" font-weight="bold" fill="#222" stroke="#222" stroke-width="0.2">10</text>
<line x1="135.80" y1="339.9" x2="135.80" y2="341.2" stroke="#555" stroke-width="0.5"/>
<text x="135.80" y="345.80" font-size="5.4" text-anchor="middle" font-weight="bold" fill="#222" stroke="#222" stroke-width="0.2">20</text>
<line x1="21.0" y1="196.40" x2="22.3" y2="196.40" stroke="#555" stroke-width="0.5"/>
<text x="20.50" y="198.30" font-size="5.4" text-anchor="end" font-weight="bold" fill="#222" stroke="#222" stroke-width="0.2">10</text>
<line x1="21.0" y1="239.70" x2="22.3" y2="239.70" stroke="#555" stroke-width="0.5"/>
<text x="20.50" y="241.60" font-size="5.4" text-anchor="end" font-weight="bold" fill="#222" stroke="#222" stroke-width="0.2">0</text>
<line x1="21.0" y1="283.00" x2="22.3" y2="283.00" stroke="#555" stroke-width="0.5"/>
<text x="20.50" y="284.90" font-size="5.4" text-anchor="end" font-weight="bold" fill="#222" stroke="#222" stroke-width="0.2">-10</text>
<line x1="21.0" y1="326.30" x2="22.3" y2="326.30" stroke="#555" stroke-width="0.5"/>
<text x="20.50" y="328.20" font-size="5.4" text-anchor="end" font-weight="bold" fill="#222" stroke="#222" stroke-width="0.2">-20</text>
<text x="85.80" y="352.60" font-size="5.4" text-anchor="middle" font-weight="bold" fill="#222" stroke="#222" stroke-width="0.24" textLength="34.0" lengthAdjust="spacingAndGlyphs">PC1 (34.81%)</text>
<text x="12.10" y="261.60" font-size="5.4" text-anchor="middle" font-weight="bold" fill="#222" stroke="#222" stroke-width="0.24" transform="rotate(-90 12.10 261.60)" textLength="34.0" lengthAdjust="spacingAndGlyphs">PC2 (26.62%)</text>
<defs><filter id="bl2" x="-2" y="-2" width="5" height="5"><feGaussianBlur stdDeviation="0.35"/></filter></defs>
<ellipse cx="40.4" cy="223.4" rx="3" ry="3" fill="#f8a040" opacity="0.12"/>
<g filter="url(#bl2)">
<circle cx="40.4" cy="223.4" r="1.2" fill="#8a5a3a"/>
<ellipse cx="81.4" cy="208.0" rx="1.9" ry="1.2" fill="#50b49c" transform="rotate(-25 81.4 208)"/>
<path d="M91.6,312.6 Q89.2,315.4 90.6,318.6" fill="none" stroke="#cc96a6" stroke-width="1.4" stroke-linecap="round"/>
<ellipse cx="126.8" cy="206.4" rx="0.9" ry="1.3" fill="#999"/>
<ellipse cx="124.6" cy="210.6" rx="1.9" ry="1.0" fill="#949494"/>
</g>
<rect x="149.3" y="238.1" width="34.4" height="43.1" fill="#fff" stroke="#aaa" stroke-width="0.6"/>
<text x="153.60" y="245.60" font-size="5.6" text-anchor="start" font-weight="bold" fill="#222" textLength="16.6" lengthAdjust="spacingAndGlyphs">Group</text>
<circle cx="155.6" cy="251.70" r="1.0" fill="#e8b0a8"/>
<text x="161.20" y="253.60" font-size="5.3" text-anchor="start" font-weight="bold" fill="#222" textLength="12.4" lengthAdjust="spacingAndGlyphs">GEEy</text>
<circle cx="155.6" cy="258.70" r="1.0" fill="#c0d0a0"/>
<text x="161.20" y="260.60" font-size="5.3" text-anchor="start" font-weight="bold" fill="#222" textLength="14.4" lengthAdjust="spacingAndGlyphs">GEEm</text>
<circle cx="155.6" cy="265.70" r="1.0" fill="#a8c8d0"/>
<text x="161.20" y="267.60" font-size="5.3" text-anchor="start" font-weight="bold" fill="#222" textLength="13.5" lengthAdjust="spacingAndGlyphs">GEGy</text>
<circle cx="155.6" cy="272.70" r="1.0" fill="#d0b8e0"/>
<text x="161.20" y="274.60" font-size="5.3" text-anchor="start" font-weight="bold" fill="#222" textLength="15.7" lengthAdjust="spacingAndGlyphs">GEGm</text>
<line x1="229.50" y1="182.0" x2="229.50" y2="338.0" stroke="#f0f0f0" stroke-width="0.5"/>
<line x1="242.50" y1="182.0" x2="242.50" y2="338.0" stroke="#f0f0f0" stroke-width="0.5"/>
<line x1="255.50" y1="182.0" x2="255.50" y2="338.0" stroke="#f0f0f0" stroke-width="0.5"/>
<line x1="268.50" y1="182.0" x2="268.50" y2="338.0" stroke="#f0f0f0" stroke-width="0.5"/>
<line x1="281.75" y1="182.0" x2="281.75" y2="338.0" stroke="#f0f0f0" stroke-width="0.5"/>
<line x1="295.00" y1="182.0" x2="295.00" y2="338.0" stroke="#f0f0f0" stroke-width="0.5"/>
<line x1="309.15" y1="182.0" x2="309.15" y2="338.0" stroke="#f0f0f0" stroke-width="0.5"/>
<line x1="323.30" y1="182.0" x2="323.30" y2="338.0" stroke="#f0f0f0" stroke-width="0.5"/>
<line x1="337.30" y1="182.0" x2="337.30" y2="338.0" stroke="#f0f0f0" stroke-width="0.5"/>
<line x1="351.30" y1="182.0" x2="351.30" y2="338.0" stroke="#f0f0f0" stroke-width="0.5"/>
<line x1="228.6" y1="337.60" x2="362.1" y2="337.60" stroke="#f0f0f0" stroke-width="0.5"/>
<line x1="228.6" y1="318.32" x2="362.1" y2="318.32" stroke="#f0f0f0" stroke-width="0.5"/>
<line x1="228.6" y1="299.05" x2="362.1" y2="299.05" stroke="#f0f0f0" stroke-width="0.5"/>
<line x1="228.6" y1="279.77" x2="362.1" y2="279.77" stroke="#f0f0f0" stroke-width="0.5"/>
<line x1="228.6" y1="260.50" x2="362.1" y2="260.50" stroke="#f0f0f0" stroke-width="0.5"/>
<line x1="228.6" y1="241.22" x2="362.1" y2="241.22" stroke="#f0f0f0" stroke-width="0.5"/>
<line x1="228.6" y1="221.95" x2="362.1" y2="221.95" stroke="#f0f0f0" stroke-width="0.5"/>
<line x1="228.6" y1="202.68" x2="362.1" y2="202.68" stroke="#f0f0f0" stroke-width="0.5"/>
<line x1="228.6" y1="183.40" x2="362.1" y2="183.40" stroke="#f0f0f0" stroke-width="0.5"/>
<rect x="228.6" y="182.0" width="133.50000000000003" height="156.0" fill="none" stroke="#bababa" stroke-width="1.1"/>
<line x1="242.50" y1="338.0" x2="242.50" y2="339.3" stroke="#555" stroke-width="0.5"/>
<text x="242.50" y="344.90" font-size="5.4" text-anchor="middle" font-weight="bold" fill="#222" stroke="#222" stroke-width="0.2">-100</text>
<line x1="268.50" y1="338.0" x2="268.50" y2="339.3" stroke="#555" stroke-width="0.5"/>
<text x="268.50" y="344.90" font-size="5.4" text-anchor="middle" font-weight="bold" fill="#222" stroke="#222" stroke-width="0.2">-50</text>
<line x1="295.00" y1="338.0" x2="295.00" y2="339.3" stroke="#555" stroke-width="0.5"/>
<text x="295.00" y="344.90" font-size="5.4" text-anchor="middle" font-weight="bold" fill="#222" stroke="#222" stroke-width="0.2">0</text>
<line x1="323.30" y1="338.0" x2="323.30" y2="339.3" stroke="#555" stroke-width="0.5"/>
<text x="323.30" y="344.90" font-size="5.4" text-anchor="middle" font-weight="bold" fill="#222" stroke="#222" stroke-width="0.2">50</text>
<line x1="351.30" y1="338.0" x2="351.30" y2="339.3" stroke="#555" stroke-width="0.5"/>
<text x="351.30" y="344.90" font-size="5.4" text-anchor="middle" font-weight="bold" fill="#222" stroke="#222" stroke-width="0.2">100</text>
<line x1="227.29999999999998" y1="183.40" x2="228.6" y2="183.40" stroke="#555" stroke-width="0.5"/>
<text x="226.80" y="185.30" font-size="5.4" text-anchor="end" font-weight="bold" fill="#222" stroke="#222" stroke-width="0.2">100</text>
<line x1="227.29999999999998" y1="221.95" x2="228.6" y2="221.95" stroke="#555" stroke-width="0.5"/>
<text x="226.80" y="223.85" font-size="5.4" text-anchor="end" font-weight="bold" fill="#222" stroke="#222" stroke-width="0.2">50</text>
<line x1="227.29999999999998" y1="260.50" x2="228.6" y2="260.50" stroke="#555" stroke-width="0.5"/>
<text x="226.80" y="262.40" font-size="5.4" text-anchor="end" font-weight="bold" fill="#222" stroke="#222" stroke-width="0.2">0</text>
<line x1="227.29999999999998" y1="299.05" x2="228.6" y2="299.05" stroke="#555" stroke-width="0.5"/>
<text x="226.80" y="300.95" font-size="5.4" text-anchor="end" font-weight="bold" fill="#222" stroke="#222" stroke-width="0.2">-50</text>
<line x1="227.29999999999998" y1="337.60" x2="228.6" y2="337.60" stroke="#555" stroke-width="0.5"/>
<text x="226.80" y="339.50" font-size="5.4" text-anchor="end" font-weight="bold" fill="#222" stroke="#222" stroke-width="0.2">-100</text>
<text x="296.00" y="352.40" font-size="5.4" text-anchor="middle" font-weight="bold" fill="#222" stroke="#222" stroke-width="0.24" textLength="35.0" lengthAdjust="spacingAndGlyphs">PC1 (39.37%)</text>
<text x="217.40" y="263.30" font-size="5.4" text-anchor="middle" font-weight="bold" fill="#222" stroke="#222" stroke-width="0.24" transform="rotate(-90 217.40 263.30)" textLength="35.0" lengthAdjust="spacingAndGlyphs">PC2 (25.91%)</text>
<defs><filter id="bl" x="-1" y="-1" width="3" height="3"><feGaussianBlur stdDeviation="0.45"/></filter></defs>
<g filter="url(#bl)">
<ellipse cx="234.7" cy="227" rx="2.1" ry="3.3" fill="#8cb84c"/>
<ellipse cx="324.3" cy="189.9" rx="2.0" ry="2.8" fill="#26aeb4"/>
<ellipse cx="266.3" cy="330.1" rx="2.4" ry="2.3" fill="#dc7878"/>
<ellipse cx="355.6" cy="294.6" rx="1.7" ry="4.0" fill="#ac94cc" transform="rotate(-14 355.6 294.6)"/>
</g>
<rect x="366.7" y="239.9" width="32" height="40.4" fill="#fff" stroke="#aaa" stroke-width="0.6"/>
<text x="369.70" y="247.40" font-size="5.6" text-anchor="start" font-weight="bold" fill="#222" textLength="16.8" lengthAdjust="spacingAndGlyphs">Group</text>
<circle cx="372.7" cy="253.50" r="1.6" fill="#ecb4bc"/>
<text x="380.10" y="256.00" font-size="5.3" text-anchor="start" font-weight="bold" fill="#222" textLength="13.1" lengthAdjust="spacingAndGlyphs">GEEy</text>
<circle cx="372.7" cy="260.10" r="1.6" fill="#a0bc80"/>
<text x="380.10" y="262.20" font-size="5.3" text-anchor="start" font-weight="bold" fill="#222" textLength="15.5" lengthAdjust="spacingAndGlyphs">GEEm</text>
<circle cx="372.7" cy="267.20" r="1.6" fill="#88b4d4"/>
<text x="380.10" y="269.00" font-size="5.3" text-anchor="start" font-weight="bold" fill="#222" textLength="14.3" lengthAdjust="spacingAndGlyphs">GEGy</text>
<circle cx="372.7" cy="274.00" r="1.6" fill="#bcaccc"/>
<text x="380.10" y="275.20" font-size="5.3" text-anchor="start" font-weight="bold" fill="#222" textLength="15.9" lengthAdjust="spacingAndGlyphs">GEGm</text>
</svg></body></html>
